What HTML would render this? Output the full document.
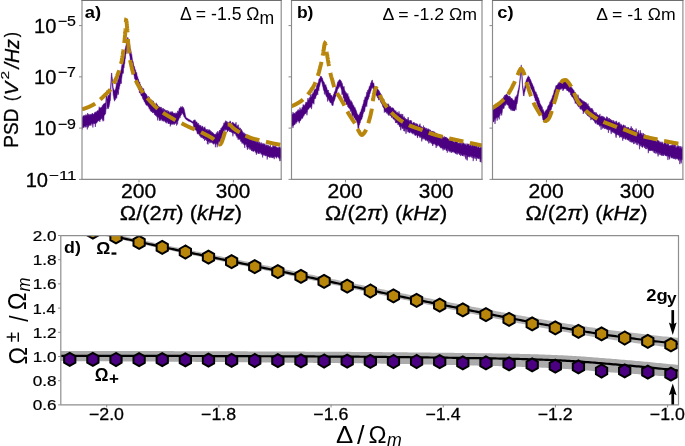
<!DOCTYPE html><html><head><meta charset="utf-8"><style>html,body{margin:0;padding:0;background:#fff;}svg{display:block;will-change:transform;}</style></head><body>
<svg width="685" height="446" viewBox="0 0 685 446" font-family="'Liberation Sans', sans-serif">
<rect width="685" height="446" fill="#fff"/>
<defs>
<clipPath id="cp0"><rect x="82" y="0.5" width="199.2" height="178.9"/></clipPath>
<clipPath id="cp1"><rect x="291.5" y="0.5" width="190.5" height="178.9"/></clipPath>
<clipPath id="cp2"><rect x="492.5" y="0.5" width="190.4" height="178.9"/></clipPath>
<clipPath id="cpd"><rect x="60.6" y="235.5" width="617.9" height="169.4"/></clipPath>
</defs>
<g clip-path="url(#cp0)">
<path d="M81 115.71L81.35 117.5L81.7 116.01L82.05 117.63L82.4 116.67L82.75 117.49L83.1 116.07L83.45 115.62L83.8 116.53L84.15 115.17L84.5 115.39L84.85 116.48L85.2 115.82L85.55 115.3L85.9 114.46L86.25 114.7L86.6 116.5L86.95 114.97L87.3 116.34L87.65 112.97L88 115.96L88.35 114.36L88.7 115.59L89.05 113.91L89.4 114.91L89.75 115.29L90.1 115.28L90.45 114.37L90.8 114.88L91.15 113.91L91.5 115.03L91.85 114.66L92.2 113.03L92.55 113.54L92.9 114.21L93.25 114.34L93.6 114.23L93.95 113.82L94.3 113.36L94.65 112.58L95 111.99L95.35 111.86L95.7 112.64L96.05 112.84L96.4 111.81L96.75 111.59L97.1 110.98L97.45 111.21L97.8 110.28L98.15 111.32L98.5 110.75L98.85 109.11L99.2 106.71L99.55 108.46L99.9 108.09L100.25 107.85L100.6 108.35L100.95 107.22L101.3 107.26L101.65 107.22L102 107.32L102.35 105.32L102.7 107.11L103.05 104.67L103.4 104.1L103.75 104.99L104.1 103.44L104.45 104.32L104.8 103.37L105.15 102.82L105.5 103.24L105.85 102.41L106.2 94.61L106.55 90.68L106.9 99.25L107.25 98.43L107.6 97.98L107.95 95.92L108.3 95.01L108.65 96.12L109 95.75L109.35 94.39L109.7 92.55L110.05 92.84L110.4 90.61L110.75 86.32L111.1 79.82L111.45 73.11L111.8 73.03L112.15 77.75L112.5 80.68L112.85 83.59L113.2 87.91L113.55 88.43L113.9 90.1L114.25 90.69L114.6 90.23L114.95 89.69L115.3 89.82L115.65 88.72L116 86.68L116.35 84.24L116.7 82.43L117.05 83.19L117.4 82.9L117.75 79.94L118.1 79.98L118.45 78.83L118.8 77.88L119.15 75.03L119.5 74.93L119.85 74.79L120.2 71.4L120.55 71.59L120.9 70.44L121.25 68.96L121.6 66.8L121.95 64.38L122.3 64.66L122.65 62.72L123 60.82L123.35 58.42L123.7 56.99L124.05 56.77L124.4 54.9L124.75 52.86L125.1 48.43L125.45 48.21L125.8 46.06L126.15 44.92L126.5 42.22L126.85 40.45L127.2 39.49L127.55 37.71L127.9 37.36L128.25 38.68L128.6 40.37L128.95 42.49L129.3 43.1L129.65 44.41L130 46.97L130.35 49.17L130.7 49.41L131.05 51.15L131.4 53.69L131.75 54.41L132.1 57.2L132.45 59.7L132.8 61.09L133.15 61.71L133.5 63.72L133.85 65.87L134.2 66.86L134.55 66.6L134.9 69.13L135.25 70.21L135.6 69.73L135.95 72.67L136.3 73.22L136.65 72.29L137 74.8L137.35 77.32L137.7 76.64L138.05 79.21L138.4 78.82L138.75 80.47L139.1 81.93L139.45 82.83L139.8 81.89L140.15 85.11L140.5 84.47L140.85 86.06L141.2 86.47L141.55 86.37L141.9 88.44L142.25 88.98L142.6 87.81L142.95 88.97L143.3 90.19L143.65 88.54L144 91.06L144.35 91.73L144.7 92.82L145.05 92.65L145.4 93.64L145.75 93.31L146.1 94.71L146.45 94.23L146.8 95.24L147.15 95.85L147.5 96.9L147.85 97.29L148.2 97.23L148.55 96.34L148.9 97.66L149.25 96.91L149.6 98.69L149.95 99.57L150.3 100.5L150.65 100.22L151 100.87L151.35 99.73L151.7 100.27L152.05 101.57L152.4 100.69L152.75 101.86L153.1 100.81L153.45 101.6L153.8 102.9L154.15 102.94L154.5 103.26L154.85 103.33L155.2 104.7L155.55 104.76L155.9 104.74L156.25 102.76L156.6 105.67L156.95 104.09L157.3 106.21L157.65 104.8L158 106.69L158.35 106.04L158.7 107.31L159.05 106.6L159.4 107.97L159.75 106.87L160.1 108.37L160.45 107.16L160.8 108.81L161.15 106.91L161.5 108.27L161.85 109.12L162.2 109.94L162.55 109.37L162.9 107.98L163.25 109.62L163.6 108.55L163.95 110.88L164.3 110.59L164.65 109.07L165 110.74L165.35 111.59L165.7 110.04L166.05 110.17L166.4 111.63L166.75 110.82L167.1 110.05L167.45 111.78L167.8 112.46L168.15 110.66L168.5 111.83L168.85 111.7L169.2 111.47L169.55 113.29L169.9 113.07L170.25 111.88L170.6 111.64L170.95 112.92L171.3 112.61L171.65 111.55L172 112.4L172.35 111.61L172.7 112.27L173.05 112.58L173.4 113.25L173.75 113.23L174.1 113.26L174.45 113.36L174.8 112.92L175.15 114.29L175.5 113.96L175.85 112.78L176.2 112.87L176.55 113.33L176.9 113.74L177.25 113.14L177.6 110.84L177.95 111.45L178.3 111.51L178.65 111.15L179 109.22L179.35 107.89L179.7 108.82L180.05 108.28L180.4 107.58L180.75 106.54L181.1 107.27L181.45 107.8L181.8 106.68L182.15 106.5L182.5 106.56L182.85 108.2L183.2 107.27L183.55 108.04L183.9 108.5L184.25 109.62L184.6 111.21L184.95 112.7L185.3 114.52L185.65 115.78L186 117.4L186.35 117.64L186.7 117.96L187.05 118.14L187.4 118.25L187.75 118.52L188.1 118.68L188.45 119.01L188.8 119.23L189.15 119.2L189.5 119.64L189.85 120L190.2 120.1L190.55 120.28L190.9 120.5L191.25 120.77L191.6 121.01L191.95 121.27L192.3 121.46L192.65 121.74L193 121.83L193.35 120.41L193.7 120.48L194.05 120.47L194.4 119.74L194.75 120.61L195.1 119.75L195.45 120.66L195.8 122.44L196.15 121.67L196.5 122.35L196.85 121.82L197.2 122.66L197.55 124.33L197.9 123.7L198.25 123.08L198.6 124.22L198.95 125.29L199.3 126.15L199.65 124.77L200 126.77L200.35 125.87L200.7 125.2L201.05 125.77L201.4 127.92L201.75 127.04L202.1 126.08L202.45 125.99L202.8 127.25L203.15 126.95L203.5 128.34L203.85 129.03L204.2 127.84L204.55 127.33L204.9 126.68L205.25 128.85L205.6 128.67L205.95 130.65L206.3 129.34L206.65 130.11L207 129.74L207.35 129.22L207.7 130.82L208.05 131.35L208.4 130.25L208.75 129.47L209.1 131.31L209.45 129.76L209.8 129.92L210.15 130.32L210.5 131.11L210.85 131.43L211.2 131.53L211.55 131.42L211.9 133.25L212.25 132.02L212.6 133.62L212.95 132.76L213.3 133.43L213.65 133.19L214 134.29L214.35 134.85L214.7 133.99L215.05 134.69L215.4 133.93L215.75 134.72L216.1 134.02L216.45 132.52L216.8 134.69L217.15 133.48L217.5 131.22L217.85 132.39L218.2 133.93L218.55 132.72L218.9 131.32L219.25 131.38L219.6 130.08L219.95 131.05L220.3 130.09L220.65 130.09L221 128.01L221.35 128.94L221.7 127.94L222.05 126.82L222.4 127.27L222.75 126.11L223.1 125.28L223.45 125.5L223.8 122.84L224.15 123.29L224.5 123.58L224.85 122.13L225.2 122.39L225.55 120.65L225.9 121.59L226.25 120.91L226.6 122.42L226.95 121.83L227.3 121.74L227.65 122.79L228 122.36L228.35 122.78L228.7 122.42L229.05 122.07L229.4 121.88L229.75 122.23L230.1 120.8L230.45 121.38L230.8 122.15L231.15 123.56L231.5 123.65L231.85 123.31L232.2 123.83L232.55 122.17L232.9 122.03L233.25 123.04L233.6 123.15L233.95 123.34L234.3 124.14L234.65 124.03L235 123.76L235.35 125.06L235.7 123.43L236.05 122.19L236.4 125.31L236.75 126.28L237.1 126.4L237.45 125.46L237.8 127.33L238.15 124.6L238.5 126.69L238.85 127.9L239.2 127.62L239.55 129.15L239.9 128.65L240.25 127.83L240.6 129.11L240.95 131.24L241.3 129.29L241.65 129.84L242 130.51L242.35 131.35L242.7 132.3L243.05 132.47L243.4 132.46L243.75 133.41L244.1 133.16L244.45 132.92L244.8 134.75L245.15 134.18L245.5 133.77L245.85 135.38L246.2 134.66L246.55 136.81L246.9 136.47L247.25 135.44L247.6 136.37L247.95 135.78L248.3 137.16L248.65 138.25L249 138.99L249.35 137.05L249.7 139.58L250.05 137.99L250.4 138.6L250.75 138.13L251.1 138.11L251.45 139.63L251.8 138.2L252.15 138.93L252.5 140.07L252.85 141.17L253.2 139.09L253.55 140.17L253.9 139.87L254.25 141.46L254.6 140.83L254.95 140.14L255.3 139.87L255.65 141.65L256 141.62L256.35 140.68L256.7 142.5L257.05 142.49L257.4 141.11L257.75 141.13L258.1 141.38L258.45 143.49L258.8 142.65L259.15 141.67L259.5 142.35L259.85 143.93L260.2 142.56L260.55 143.88L260.9 144.32L261.25 144.21L261.6 142.53L261.95 144.3L262.3 143.91L262.65 143.52L263 145.04L263.35 143.56L263.7 145.15L264.05 143.51L264.4 144.92L264.75 144.19L265.1 144.32L265.45 145.82L265.8 145.85L266.15 144.47L266.5 145.44L266.85 145.56L267.2 145.95L267.55 144.79L267.9 146.53L268.25 145.92L268.6 145.15L268.95 146.75L269.3 146.46L269.65 146.08L270 146.58L270.35 145.13L270.7 147.41L271.05 147.29L271.4 147.6L271.75 146.96L272.1 147.79L272.45 147.32L272.8 145.66L273.15 145.13L273.5 147.35L273.85 145.92L274.2 146.96L274.55 146.14L274.9 145.93L275.25 145.1L275.6 146.58L275.95 146.93L276.3 148.37L276.65 146.64L277 148.15L277.35 148.11L277.7 147.88L278.05 147.04L278.4 148.55L278.75 147.73L279.1 146.8L279.45 147.18L279.8 147.48L280.15 146.83L280.5 148.15L280.85 148.78L281.2 148.26L281.55 148.45L281.9 147.47L282.25 147.33L282.25 158.67L281.9 161.39L281.55 157.18L281.2 157.14L280.85 160.89L280.5 158.2L280.15 157.38L279.8 161.15L279.45 157.27L279.1 158.78L278.75 156.82L278.4 157.6L278.05 157.1L277.7 156.38L277.35 156.42L277 157.38L276.65 156.93L276.3 158.4L275.95 156.32L275.6 157.15L275.25 156.73L274.9 156.68L274.55 156.83L274.2 159.19L273.85 157.21L273.5 157.46L273.15 157.44L272.8 157.97L272.45 157.97L272.1 156.45L271.75 157.71L271.4 155.74L271.05 157.53L270.7 155.75L270.35 157.47L270 156.75L269.65 157.58L269.3 157.39L268.95 156.44L268.6 156.91L268.25 155.73L267.9 156.72L267.55 155.57L267.2 159.53L266.85 155.72L266.5 154.85L266.15 156.09L265.8 155.25L265.45 156.16L265.1 155.2L264.75 155.07L264.4 153.71L264.05 155.79L263.7 153.4L263.35 154.97L263 153.5L262.65 157.53L262.3 155.28L261.95 153.57L261.6 154.08L261.25 154.49L260.9 154.02L260.55 152.5L260.2 152.87L259.85 152.14L259.5 153L259.15 153.98L258.8 153.5L258.45 152.89L258.1 153.76L257.75 151.74L257.4 151.85L257.05 153.29L256.7 153L256.35 154.76L256 152.36L255.65 151.58L255.3 152.54L254.95 150.24L254.6 151.05L254.25 149.81L253.9 151.19L253.55 151.68L253.2 151.21L252.85 149.88L252.5 151.28L252.15 149.51L251.8 151.03L251.45 150.76L251.1 149.26L250.75 148.6L250.4 148.63L250.05 150L249.7 147.86L249.35 147.6L249 148.94L248.65 147.07L248.3 147.22L247.95 147.23L247.6 149.49L247.25 149.7L246.9 146.42L246.55 146.8L246.2 144.62L245.85 144.71L245.5 144.62L245.15 143.82L244.8 148.03L244.45 144.89L244.1 144.86L243.75 144.49L243.4 143.67L243.05 142.64L242.7 143.18L242.35 142.07L242 143.61L241.65 141.17L241.3 141.79L240.95 140.21L240.6 141.48L240.25 139.36L239.9 139.63L239.55 138.49L239.2 139.38L238.85 139.02L238.5 137.84L238.15 139.85L237.8 138.17L237.45 135.63L237.1 137.74L236.75 136.81L236.4 135.51L236.05 135.88L235.7 134.43L235.35 133.86L235 133.58L234.65 134.17L234.3 133.53L233.95 132.72L233.6 132.72L233.25 133.64L232.9 136.36L232.55 132.17L232.2 133.15L231.85 132.2L231.5 131.15L231.15 132.5L230.8 131.2L230.45 132L230.1 130.92L229.75 131.98L229.4 130.65L229.05 130.44L228.7 130.31L228.35 130.56L228 131.2L227.65 129.91L227.3 132.13L226.95 129.65L226.6 129.34L226.25 129.97L225.9 129.85L225.55 130.42L225.2 129.6L224.85 129.36L224.5 130.16L224.15 131.31L223.8 131.01L223.45 132.26L223.1 134.88L222.75 132.81L222.4 134.06L222.05 137.95L221.7 136.4L221.35 139.22L221 137.48L220.65 140.02L220.3 140.84L219.95 142.55L219.6 141.12L219.25 141.54L218.9 141.77L218.55 141.75L218.2 144.94L217.85 144.28L217.5 143.29L217.15 147.3L216.8 143.39L216.45 143.53L216.1 144.24L215.75 144.65L215.4 147.28L215.05 143.07L214.7 143.3L214.35 143.05L214 144.18L213.65 142.85L213.3 144.31L212.95 143.98L212.6 142.69L212.25 142.92L211.9 141.94L211.55 141.72L211.2 142.9L210.85 142.81L210.5 141.45L210.15 142.35L209.8 143.33L209.45 141.33L209.1 141.45L208.75 141.86L208.4 140.79L208.05 144.5L207.7 139.71L207.35 144.06L207 140.07L206.65 140.88L206.3 139.17L205.95 139.68L205.6 138.51L205.25 140.08L204.9 139.65L204.55 140.78L204.2 137.66L203.85 138.3L203.5 138.49L203.15 139.15L202.8 136.99L202.45 137.97L202.1 136.57L201.75 136.76L201.4 137.53L201.05 137.79L200.7 136.69L200.35 136.6L200 135.61L199.65 135.82L199.3 134.67L198.95 133.85L198.6 134.14L198.25 133.19L197.9 134.3L197.55 133.14L197.2 133.59L196.85 131.72L196.5 130.69L196.15 130.58L195.8 129.73L195.45 130.2L195.1 129.03L194.75 128.81L194.4 128.27L194.05 129.46L193.7 127.22L193.35 124.75L193 123.34L192.65 123.08L192.3 123.2L191.95 122.73L191.6 122.51L191.25 122.31L190.9 122.1L190.55 121.9L190.2 121.78L189.85 121.72L189.5 121.35L189.15 121.28L188.8 121.27L188.45 121.18L188.1 120.69L187.75 120.52L187.4 120.21L187.05 120.25L186.7 119.9L186.35 119.69L186 119.41L185.65 119.08L185.3 118.78L184.95 118.13L184.6 116.97L184.25 116.89L183.9 116.73L183.55 114.74L183.2 114.89L182.85 113.52L182.5 113.7L182.15 113.11L181.8 113.11L181.45 114.77L181.1 113.91L180.75 116.05L180.4 115.15L180.05 117.9L179.7 116.7L179.35 117.58L179 119.29L178.65 119.42L178.3 120.57L177.95 121.07L177.6 124.45L177.25 120.78L176.9 121.73L176.55 125.63L176.2 122.74L175.85 122.7L175.5 123.42L175.15 123.39L174.8 123.32L174.45 124.51L174.1 124.52L173.75 122.68L173.4 124.41L173.05 123.29L172.7 124.28L172.35 124.18L172 124.41L171.65 124.49L171.3 123.28L170.95 124.57L170.6 124.45L170.25 126.47L169.9 122.31L169.55 123.68L169.2 123L168.85 123.81L168.5 122.9L168.15 123.85L167.8 121.62L167.45 122.45L167.1 121.86L166.75 121.7L166.4 123.33L166.05 121.11L165.7 122.41L165.35 122.17L165 121.8L164.65 120.4L164.3 120.85L163.95 121.41L163.6 121.22L163.25 120.38L162.9 120.2L162.55 120.34L162.2 121.2L161.85 120.37L161.5 118.69L161.15 119L160.8 120.54L160.45 120.33L160.1 118.9L159.75 119.22L159.4 120.89L159.05 119.04L158.7 117.02L158.35 116.98L158 117.98L157.65 120.46L157.3 116.55L156.95 117.13L156.6 116.19L156.25 115.15L155.9 115.85L155.55 115.62L155.2 114.82L154.85 114.65L154.5 114.69L154.15 113.36L153.8 112.29L153.45 112.92L153.1 111.86L152.75 112.77L152.4 112.88L152.05 110.71L151.7 111.92L151.35 110.86L151 111.44L150.65 110.62L150.3 110.84L149.95 108.49L149.6 107.97L149.25 109.35L148.9 107.69L148.55 106.87L148.2 106.95L147.85 105.59L147.5 105.61L147.15 105.46L146.8 104.79L146.45 105.42L146.1 104.97L145.75 104.25L145.4 103.56L145.05 103.27L144.7 101.12L144.35 101.8L144 101.4L143.65 98.77L143.3 99.96L142.95 97.54L142.6 98.59L142.25 96.59L141.9 96.18L141.55 96.06L141.2 95.64L140.85 94.92L140.5 92.8L140.15 92.22L139.8 92.75L139.45 93.14L139.1 90.18L138.75 89.39L138.4 89.21L138.05 86.79L137.7 86.94L137.35 85.42L137 84.64L136.65 83.9L136.3 83.82L135.95 81.26L135.6 80.55L135.25 79.21L134.9 79.29L134.55 78.71L134.2 75.91L133.85 74.88L133.5 73.82L133.15 73.19L132.8 71.71L132.45 69.25L132.1 71.08L131.75 65.39L131.4 63.93L131.05 62.55L130.7 61.42L130.35 60.95L130 56.83L129.65 55.22L129.3 51.76L128.95 49.57L128.6 46.2L128.25 44.51L127.9 43.06L127.55 42.93L127.2 45L126.85 47.49L126.5 50.44L126.15 53.93L125.8 54.28L125.45 58.47L125.1 59L124.75 63.83L124.4 63.63L124.05 68.06L123.7 67.48L123.35 73.42L123 72.98L122.65 73.18L122.3 74.15L121.95 77L121.6 79.26L121.25 83.65L120.9 81.88L120.55 83.87L120.2 82.92L119.85 86.27L119.5 86.02L119.15 89.37L118.8 89.22L118.45 94.65L118.1 91.88L117.75 93.04L117.4 94.74L117.05 95.58L116.7 98.41L116.35 96.69L116 97.69L115.65 98.78L115.3 99.91L114.95 99.33L114.6 101.26L114.25 100.13L113.9 98.95L113.55 96.19L113.2 95.37L112.85 90.2L112.5 86.47L112.15 82.25L111.8 77.4L111.45 77L111.1 84.7L110.75 94.14L110.4 100.43L110.05 101.17L109.7 103.67L109.35 104.93L109 107.18L108.65 106.55L108.3 108.88L107.95 106.8L107.6 107.83L107.25 108.33L106.9 109.24L106.55 94.54L106.2 101.26L105.85 111.74L105.5 114.13L105.15 113.42L104.8 114.89L104.45 115.36L104.1 115.35L103.75 120.69L103.4 117.12L103.05 121.4L102.7 116.43L102.35 120.27L102 117.3L101.65 118.93L101.3 118.07L100.95 118.42L100.6 119.9L100.25 119.49L99.9 121.95L99.55 120.67L99.2 120.31L98.85 120.52L98.5 121.01L98.15 120.91L97.8 120.92L97.45 122.09L97.1 122.04L96.75 122.95L96.4 122.7L96.05 123.64L95.7 123.35L95.35 127.01L95 124.23L94.65 123.29L94.3 123.68L93.95 123.76L93.6 123.24L93.25 123.77L92.9 127.55L92.55 123.81L92.2 124.12L91.85 123.44L91.5 123.61L91.15 125.21L90.8 125.72L90.45 124.4L90.1 124.78L89.75 124.76L89.4 125.3L89.05 125.99L88.7 125.1L88.35 127.47L88 125.72L87.65 125.04L87.3 129.47L86.95 125.4L86.6 125.29L86.25 127.2L85.9 125.99L85.55 126.04L85.2 127.41L84.85 126.1L84.5 126.52L84.15 125.74L83.8 127.77L83.45 126L83.1 128.09L82.75 128.01L82.4 127.07L82.05 129.66L81.7 127.07L81.35 126.28L81 128.73Z" fill="#4B0082" stroke="#4B0082" stroke-width="0.5"/>
<path d="M82 109.2L82.19 109.15L82.39 109.11L82.58 109.06L82.78 109.01L82.97 108.97L83.17 108.91L83.36 108.86L83.55 108.81L83.74 108.76L83.94 108.7L84.13 108.65L84.32 108.59L84.51 108.53L84.7 108.47L84.89 108.41L85.08 108.35L85.27 108.29L85.46 108.23L85.65 108.16L85.84 108.1L86.03 108.03L86.22 107.96L86.41 107.89L86.59 107.82L86.78 107.75L86.97 107.68L87.16 107.61L87.34 107.54L87.53 107.46L87.71 107.39L87.9 107.31L88.08 107.24L88.27 107.16L88.45 107.08L88.64 107L88.82 106.92L89 106.84L89.18 106.76L89.37 106.68L89.55 106.6L89.73 106.51L89.91 106.43L90.09 106.34L90.27 106.26L90.45 106.17L90.63 106.08L90.81 105.99L90.99 105.91L91.17 105.82L91.35 105.73L91.53 105.63L91.71 105.54L91.88 105.45L92.06 105.36L92.24 105.27L92.41 105.17L92.59 105.08L92.77 104.98L92.94 104.89L93.12 104.79L93.29 104.69L93.47 104.6L93.64 104.5L93.82 104.4L93.99 104.3L94.16 104.2L94.34 104.1L94.51 104L94.68 103.9L94.86 103.8L95.03 103.7L95.2 103.6M100.19 99.61L100.34 99.48L100.49 99.34L100.64 99.21L100.79 99.08L100.94 98.94L101.08 98.81L101.23 98.67L101.38 98.54L101.52 98.4L101.67 98.26L101.82 98.13L101.96 97.99L102.11 97.85L102.25 97.71L102.39 97.57L102.54 97.43L102.68 97.29L102.82 97.15L102.97 97.02L103.11 96.87L103.25 96.73L103.4 96.59L103.54 96.45L103.68 96.31L103.82 96.17L103.96 96.03L104.11 95.89L104.25 95.75L104.39 95.61L104.53 95.47L104.67 95.33L104.81 95.18L104.96 95.04L105.1 94.9L105.24 94.76L105.38 94.62L105.53 94.48L105.67 94.35L105.82 94.21L105.96 94.07L106.11 93.93L106.25 93.8L106.4 93.66L106.55 93.52L106.69 93.39L106.84 93.25L106.98 93.11L107.13 92.98L107.28 92.84L107.42 92.7L107.57 92.57L107.71 92.43L107.86 92.29L108 92.15L108.14 92.01L108.29 91.87L108.43 91.73L108.57 91.59L108.71 91.45L108.85 91.3L108.99 91.16L109.13 91.02L109.26 90.87L109.4 90.72L109.53 90.57L109.67 90.43L109.8 90.27L109.93 90.12L110.06 89.97L110.18 89.81L110.31 89.66L110.43 89.5L110.55 89.34M113.72 83.56L113.81 83.38L113.9 83.2L113.98 83.02L114.07 82.84L114.16 82.66L114.25 82.48L114.33 82.3L114.42 82.12L114.51 81.94L114.59 81.76L114.68 81.58L114.76 81.4L114.85 81.22L114.93 81.04L115.02 80.86L115.1 80.68L115.19 80.49L115.27 80.31L115.35 80.13L115.44 79.95L115.52 79.77L115.6 79.58L115.68 79.4L115.76 79.22L115.84 79.04L115.92 78.85L116 78.67L116.08 78.49L116.16 78.3L116.24 78.12L116.32 77.93L116.4 77.75L116.47 77.56L116.55 77.38L116.63 77.19L116.7 77.01L116.78 76.82L116.85 76.64L116.93 76.45L117 76.27L117.08 76.08L117.15 75.9L117.23 75.71L117.3 75.53L117.38 75.34L117.45 75.15L117.52 74.97L117.59 74.78L117.67 74.6L117.74 74.41L117.81 74.22L117.88 74.04L117.95 73.85L118.02 73.66L118.09 73.47L118.16 73.29L118.23 73.1L118.3 72.91L118.37 72.72L118.44 72.54L118.51 72.35L118.57 72.16L118.64 71.97L118.71 71.78L118.77 71.59L118.84 71.4L118.9 71.21L118.96 71.02L119.03 70.83L119.09 70.64L119.15 70.45L119.21 70.26M121.06 63.93L121.11 63.73L121.15 63.54L121.2 63.35L121.25 63.15L121.29 62.96L121.33 62.76L121.38 62.57L121.42 62.37L121.46 62.17L121.5 61.98L121.54 61.78L121.58 61.59L121.62 61.39L121.66 61.19L121.7 61L121.74 60.8L121.78 60.61L121.82 60.41L121.85 60.21L121.89 60.02L121.93 59.82L121.96 59.62L122 59.43L122.04 59.23L122.07 59.03L122.11 58.84L122.14 58.64L122.18 58.44L122.21 58.25L122.24 58.05L122.28 57.85L122.31 57.65L122.34 57.46L122.38 57.26L122.41 57.06L122.44 56.86L122.47 56.67L122.5 56.47L122.53 56.27L122.57 56.07L122.6 55.88L122.63 55.68L122.66 55.48L122.69 55.28L122.72 55.09L122.75 54.89L122.78 54.69L122.81 54.49L122.84 54.29L122.86 54.1L122.89 53.9L122.92 53.7L122.95 53.5L122.98 53.3L123.01 53.11L123.04 52.91L123.06 52.71L123.09 52.51L123.12 52.31L123.15 52.12L123.17 51.92L123.2 51.72L123.23 51.52L123.26 51.32L123.28 51.13L123.31 50.93L123.34 50.73L123.36 50.53L123.39 50.33L123.42 50.13L123.44 49.94L123.47 49.74L123.5 49.54M124.29 42.99L124.31 42.79L124.33 42.59L124.36 42.39L124.38 42.19L124.4 41.99L124.42 41.8L124.44 41.6L124.46 41.4L124.48 41.2L124.5 41L124.52 40.8L124.54 40.6L124.56 40.4L124.58 40.2L124.6 40L124.62 39.81L124.64 39.61L124.66 39.41L124.68 39.21L124.7 39.01L124.72 38.81L124.74 38.61L124.76 38.41L124.78 38.21L124.8 38.01L124.82 37.82L124.84 37.62L124.85 37.42L124.87 37.22L124.89 37.02L124.91 36.82L124.93 36.62L124.94 36.42L124.96 36.22L124.98 36.02L125 35.82L125.01 35.62L125.03 35.42L125.05 35.23L125.06 35.03L125.08 34.83L125.1 34.63L125.11 34.43L125.13 34.23L125.15 34.03L125.16 33.83L125.18 33.63L125.2 33.43L125.21 33.23L125.23 33.03L125.24 32.83L125.26 32.63L125.27 32.43L125.29 32.24L125.3 32.04L125.32 31.84L125.34 31.64L125.35 31.44L125.37 31.24L125.38 31.04L125.4 30.84L125.41 30.64L125.43 30.44L125.44 30.24L125.45 30.04L125.47 29.84L125.48 29.64L125.5 29.44L125.51 29.24L125.53 29.04L125.54 28.84L125.55 28.64L125.57 28.45M125.87 21.85L125.88 21.65L125.89 21.45L125.91 21.25L125.92 21.05L125.94 20.85L125.95 20.66L125.98 20.46L126.01 20.26L126.05 20.07L126.16 20.12L126.22 20.31L126.26 20.5L126.31 20.7L126.35 20.9L126.39 21.09L126.42 21.29L126.46 21.48L126.5 21.68L126.53 21.88L126.56 22.08L126.59 22.27L126.63 22.47L126.66 22.67L126.68 22.87L126.71 23.07L126.73 23.26L126.75 23.46L126.78 23.66L126.8 23.86L126.82 24.06L126.84 24.26L126.86 24.46L126.88 24.66L126.89 24.86L126.91 25.05L126.93 25.25L126.95 25.45L126.96 25.65L126.98 25.85L127 26.05L127.01 26.25L127.03 26.45L127.04 26.65L127.05 26.85L127.07 27.05L127.08 27.25L127.1 27.45L127.11 27.65L127.12 27.85L127.14 28.05L127.15 28.25L127.16 28.45L127.17 28.64L127.19 28.84L127.2 29.04L127.21 29.24L127.23 29.44L127.24 29.64L127.25 29.84L127.26 30.04L127.28 30.24L127.29 30.44L127.3 30.64L127.32 30.84L127.33 31.04L127.34 31.24L127.36 31.44L127.37 31.64L127.39 31.84L127.4 32.04L127.42 32.24L127.43 32.44M127.91 39.02L127.92 39.22L127.94 39.42L127.95 39.62L127.97 39.82L127.98 40.02L128 40.22L128.01 40.41L128.03 40.61L128.04 40.81L128.06 41.01L128.07 41.21L128.09 41.41L128.11 41.61L128.12 41.81L128.14 42.01L128.15 42.21L128.17 42.41L128.18 42.61L128.2 42.81L128.22 43.01L128.23 43.21L128.25 43.41L128.27 43.6L128.28 43.8L128.3 44L128.32 44.2L128.33 44.4L128.35 44.6L128.37 44.8L128.39 45L128.4 45.2L128.42 45.4L128.44 45.6L128.45 45.8L128.47 46L128.49 46.2L128.51 46.39L128.52 46.59L128.54 46.79L128.56 46.99L128.57 47.19L128.59 47.39L128.61 47.59L128.63 47.79L128.65 47.99L128.66 48.19L128.68 48.39L128.7 48.59L128.72 48.79L128.74 48.98L128.75 49.18L128.77 49.38L128.79 49.58L128.81 49.78L128.83 49.98L128.85 50.18L128.87 50.38L128.89 50.58L128.91 50.78L128.93 50.98L128.95 51.17L128.97 51.37L128.99 51.57L129.01 51.77L129.03 51.97L129.05 52.17L129.07 52.37L129.09 52.57L129.11 52.77L129.13 52.96L129.16 53.16L129.18 53.36L129.2 53.56M130.16 60.09L130.2 60.29L130.23 60.48L130.27 60.68L130.31 60.87L130.35 61.07L130.39 61.27L130.43 61.46L130.47 61.66L130.5 61.86L130.54 62.05L130.58 62.25L130.62 62.44L130.67 62.64L130.71 62.84L130.75 63.03L130.79 63.23L130.83 63.42L130.87 63.62L130.91 63.81L130.96 64.01L131 64.2L131.04 64.4L131.08 64.6L131.12 64.79L131.17 64.99L131.21 65.18L131.25 65.38L131.3 65.57L131.34 65.77L131.38 65.96L131.42 66.16L131.47 66.35L131.51 66.55L131.55 66.74L131.6 66.94L131.64 67.13L131.68 67.33L131.73 67.53L131.77 67.72L131.82 67.92L131.86 68.11L131.91 68.31L131.95 68.5L132 68.69L132.04 68.89L132.09 69.08L132.14 69.28L132.18 69.47L132.23 69.67L132.28 69.86L132.32 70.06L132.37 70.25L132.42 70.44L132.47 70.64L132.52 70.83L132.57 71.03L132.62 71.22L132.67 71.41L132.72 71.61L132.77 71.8L132.82 71.99L132.87 72.19L132.93 72.38L132.98 72.57L133.03 72.76L133.09 72.96L133.14 73.15L133.2 73.34L133.25 73.53L133.31 73.73L133.37 73.92L133.42 74.11L133.48 74.3M135.81 80.47L135.9 80.65L135.98 80.83L136.06 81.02L136.14 81.2L136.23 81.38L136.31 81.56L136.4 81.74L136.48 81.92L136.57 82.1L136.65 82.28L136.74 82.47L136.83 82.65L136.91 82.83L137 83L137.09 83.18L137.18 83.36L137.27 83.54L137.36 83.72L137.46 83.9L137.55 84.07L137.65 84.25L137.74 84.42L137.84 84.6L137.94 84.77L138.03 84.95L138.13 85.12L138.23 85.29L138.33 85.47L138.44 85.64L138.54 85.81L138.64 85.98L138.74 86.16L138.85 86.33L138.95 86.5L139.05 86.67L139.16 86.84L139.26 87.01L139.37 87.18L139.48 87.35L139.58 87.52L139.69 87.69L139.79 87.86L139.9 88.03L140.01 88.19L140.11 88.36L140.22 88.53L140.33 88.7L140.44 88.87L140.54 89.04L140.65 89.21L140.76 89.38L140.87 89.54L140.98 89.71L141.09 89.88L141.2 90.04L141.31 90.21L141.42 90.38L141.53 90.54L141.64 90.71L141.76 90.88L141.87 91.04L141.98 91.21L142.09 91.37L142.21 91.53L142.32 91.7L142.44 91.86L142.55 92.03L142.67 92.19L142.78 92.35L142.9 92.51L143.02 92.68L143.13 92.84M147.27 97.98L147.41 98.13L147.54 98.28L147.67 98.43L147.8 98.58L147.94 98.73L148.07 98.88L148.2 99.03L148.33 99.17L148.47 99.32L148.6 99.47L148.74 99.62L148.87 99.77L149.01 99.92L149.14 100.06L149.28 100.21L149.41 100.36L149.55 100.51L149.68 100.65L149.82 100.8L149.95 100.95L150.09 101.09L150.22 101.24L150.36 101.39L150.49 101.54L150.63 101.68L150.77 101.83L150.9 101.98L151.04 102.12L151.17 102.27L151.31 102.41L151.45 102.56L151.58 102.71L151.72 102.85L151.86 103L151.99 103.14L152.13 103.29L152.27 103.44L152.41 103.58L152.54 103.73L152.68 103.87L152.82 104.02L152.96 104.16L153.1 104.3L153.24 104.45L153.38 104.59L153.51 104.74L153.65 104.88L153.79 105.02L153.93 105.16L154.07 105.31L154.22 105.45L154.36 105.59L154.5 105.73L154.64 105.87L154.78 106.01L154.93 106.15L155.07 106.29L155.21 106.43L155.36 106.57L155.5 106.71L155.64 106.85L155.79 106.99L155.93 107.12L156.08 107.26L156.23 107.4L156.37 107.53L156.52 107.67L156.67 107.8L156.82 107.94L156.97 108.07L157.12 108.2L157.27 108.33L157.42 108.47L157.57 108.6L157.72 108.73M162.98 112.71L163.14 112.82L163.31 112.94L163.47 113.05L163.64 113.16L163.81 113.27L163.97 113.38L164.14 113.49L164.31 113.6L164.48 113.7L164.65 113.81L164.82 113.92L164.99 114.02L165.16 114.13L165.33 114.23L165.5 114.34L165.67 114.44L165.84 114.55L166.01 114.65L166.18 114.75L166.35 114.86L166.52 114.96L166.7 115.06L166.87 115.16L167.04 115.26L167.21 115.37L167.39 115.47L167.56 115.57L167.73 115.67L167.9 115.77L168.08 115.87L168.25 115.97L168.42 116.07L168.59 116.17L168.77 116.27L168.94 116.38L169.11 116.48L169.28 116.58L169.46 116.68L169.63 116.78L169.8 116.88L169.97 116.98L170.15 117.09L170.32 117.19L170.49 117.29L170.66 117.39L170.83 117.5L171 117.6L171.17 117.7L171.35 117.81L171.52 117.91L171.69 118.01L171.86 118.11L172.03 118.22L172.2 118.32L172.38 118.42L172.55 118.52L172.72 118.63L172.89 118.73L173.06 118.83L173.24 118.93L173.41 119.03L173.58 119.13L173.75 119.23L173.93 119.34L174.1 119.44L174.27 119.54L174.45 119.64L174.62 119.73L174.79 119.83L174.97 119.93L175.14 120.03L175.32 120.13L175.49 120.22M181.56 123.28L181.74 123.37L181.92 123.46L182.1 123.55L182.28 123.64L182.46 123.73L182.64 123.82L182.82 123.91L182.99 124L183.17 124.09L183.35 124.18L183.53 124.27L183.71 124.36L183.89 124.46L184.06 124.55L184.24 124.64L184.42 124.73L184.6 124.82L184.78 124.91L184.95 125L185.13 125.09L185.31 125.18L185.49 125.27L185.67 125.36L185.85 125.45L186.03 125.54L186.2 125.63L186.38 125.72L186.56 125.81L186.74 125.9L186.92 125.98L187.1 126.07L187.28 126.16L187.46 126.24L187.64 126.33L187.82 126.42L188 126.5L188.19 126.59L188.37 126.67L188.55 126.75L188.73 126.84L188.91 126.92L189.09 127L189.28 127.09L189.46 127.17L189.64 127.25L189.82 127.33L190.01 127.41L190.19 127.49L190.37 127.58L190.56 127.66L190.74 127.74L190.92 127.82L191.11 127.9L191.29 127.98L191.47 128.06L191.66 128.14L191.84 128.22L192.02 128.29L192.21 128.37L192.39 128.45L192.57 128.53L192.76 128.61L192.94 128.69L193.12 128.77L193.31 128.85L193.49 128.93L193.67 129.01L193.86 129.09L194.04 129.17L194.22 129.25L194.41 129.33L194.59 129.41L194.77 129.49M201 132.23L201.18 132.32L201.36 132.4L201.54 132.49L201.72 132.57L201.9 132.66L202.08 132.74L202.26 132.83L202.44 132.92L202.62 133L202.8 133.09L202.98 133.18L203.16 133.27L203.34 133.35L203.52 133.44L203.7 133.53L203.88 133.62L204.06 133.71L204.24 133.8L204.41 133.89L204.59 133.99L204.77 134.08L204.95 134.17L205.12 134.26L205.3 134.36L205.48 134.45L205.65 134.54L205.83 134.63L206.01 134.73L206.19 134.82L206.37 134.91L206.54 135L206.72 135.09L206.9 135.18L207.08 135.27L207.26 135.37L207.43 135.46L207.61 135.55L207.79 135.64L207.97 135.73L208.14 135.83L208.32 135.92L208.5 136.01L208.67 136.1L208.85 136.2L209.03 136.29L209.2 136.39L209.38 136.48L209.55 136.58L209.73 136.68L209.9 136.77L210.08 136.87L210.25 136.97L210.42 137.07L210.6 137.17L210.77 137.27L210.94 137.38L211.11 137.48L211.28 137.59L211.45 137.69L211.62 137.8L211.79 137.91L211.96 138.02L212.12 138.13L212.29 138.24L212.45 138.35L212.62 138.47L212.78 138.58L212.94 138.7L213.1 138.82L213.26 138.94L213.42 139.06L213.58 139.19L213.73 139.31L213.88 139.44L214.03 139.58M218.94 144.24L219.12 144.33L219.3 144.41L219.49 144.45L219.69 144.49L219.88 144.44L220.07 144.37L220.24 144.28L220.39 144.15L220.54 144.02L220.68 143.87L220.81 143.72L220.94 143.57L221.06 143.41L221.18 143.25L221.28 143.07L221.38 142.9L221.47 142.72L221.56 142.54L221.64 142.36L221.72 142.18L221.79 141.99L221.86 141.8L221.93 141.62L222 141.43L222.06 141.24L222.13 141.05L222.2 140.86L222.26 140.67L222.33 140.48L222.39 140.29L222.46 140.11L222.53 139.92L222.6 139.73L222.67 139.54L222.74 139.36L222.8 139.17L222.87 138.98L222.94 138.79L223 138.6L223.06 138.41L223.13 138.22L223.19 138.03L223.25 137.84L223.32 137.65L223.38 137.46L223.44 137.27L223.5 137.08L223.56 136.89L223.62 136.7L223.68 136.51L223.74 136.32L223.8 136.13L223.86 135.94L223.92 135.75L223.98 135.55L224.04 135.36L224.1 135.17L224.16 134.98L224.22 134.79L224.28 134.6L224.34 134.41L224.4 134.22L224.46 134.03L224.52 133.84L224.57 133.64L224.63 133.45L224.69 133.26L224.75 133.07L224.8 132.88L224.86 132.69L224.92 132.49L224.98 132.3L225.03 132.11L225.09 131.92L225.14 131.73L225.2 131.54L225.26 131.34M227.62 124.51L227.82 124.51L228.02 124.52L228.22 124.53L228.42 124.55L228.62 124.56L228.81 124.58L229.01 124.61L229.21 124.64L229.4 124.7L229.59 124.76L229.77 124.84L229.95 124.94L230.12 125.04L230.28 125.16L230.45 125.27L230.6 125.4L230.75 125.53L230.89 125.67L231.04 125.81L231.18 125.95L231.32 126.1L231.45 126.24L231.59 126.39L231.72 126.54L231.86 126.68L231.99 126.83L232.13 126.98L232.26 127.13L232.4 127.27L232.54 127.42L232.67 127.56L232.82 127.7L232.96 127.84L233.11 127.98L233.26 128.11L233.42 128.23L233.58 128.35L233.74 128.47L233.9 128.59L234.06 128.71L234.22 128.83L234.38 128.95L234.54 129.06L234.71 129.18L234.87 129.29L235.03 129.41L235.2 129.52L235.36 129.64L235.53 129.75L235.69 129.87L235.85 129.98L236.02 130.09L236.19 130.21L236.35 130.32L236.52 130.43L236.68 130.54L236.85 130.65L237.02 130.76L237.18 130.87L237.35 130.98L237.52 131.09L237.69 131.2L237.86 131.3L238.03 131.41L238.19 131.52L238.36 131.62L238.53 131.73L238.7 131.84L238.87 131.94L239.04 132.04L239.22 132.15L239.39 132.25L239.56 132.36L239.73 132.46M245.54 135.58L245.72 135.67L245.9 135.75L246.08 135.84L246.26 135.92L246.45 136.01L246.63 136.09L246.81 136.18L246.99 136.26L247.17 136.35L247.35 136.43L247.53 136.51L247.72 136.6L247.9 136.68L248.08 136.76L248.26 136.84L248.45 136.92L248.63 137L248.81 137.08L249 137.16L249.18 137.24L249.36 137.32L249.55 137.4L249.73 137.47L249.92 137.55L250.11 137.62L250.29 137.69L250.48 137.77L250.67 137.84L250.85 137.91L251.04 137.97L251.23 138.04L251.42 138.11L251.61 138.17L251.8 138.23L251.99 138.3L252.18 138.36L252.37 138.41L252.56 138.47L252.75 138.53L252.95 138.58L253.14 138.64L253.33 138.69L253.52 138.74L253.72 138.8L253.91 138.85L254.1 138.9L254.3 138.95L254.49 139L254.68 139.05L254.88 139.09L255.07 139.14L255.27 139.19L255.46 139.23L255.66 139.28L255.85 139.33L256.05 139.37L256.24 139.42L256.44 139.46L256.63 139.51L256.83 139.55L257.02 139.6L257.22 139.64L257.41 139.68L257.61 139.73L257.8 139.77L258 139.82L258.19 139.86L258.39 139.91L258.58 139.95L258.77 140L258.97 140.05L259.16 140.09L259.36 140.14M265.96 141.76L266.16 141.81L266.35 141.86L266.54 141.91L266.74 141.95L266.93 142L267.13 142.05L267.32 142.1L267.51 142.15L267.71 142.2L267.9 142.24L268.1 142.29L268.29 142.34L268.49 142.39L268.68 142.44L268.87 142.48L269.07 142.53L269.26 142.58L269.46 142.62L269.65 142.67L269.85 142.72L270.04 142.76L270.24 142.81L270.43 142.85L270.63 142.9L270.82 142.94L271.02 142.99L271.21 143.03L271.41 143.07L271.6 143.12L271.8 143.16L271.99 143.2L272.19 143.24L272.38 143.28L272.58 143.32L272.78 143.36L272.97 143.4L273.17 143.44L273.36 143.48L273.56 143.52L273.76 143.56L273.95 143.6L274.15 143.64L274.35 143.67L274.54 143.71L274.74 143.75L274.93 143.79L275.13 143.83L275.33 143.86L275.52 143.9L275.72 143.94L275.92 143.98L276.11 144.01L276.31 144.05L276.51 144.09L276.7 144.12L276.9 144.16L277.1 144.2L277.29 144.23L277.49 144.27L277.69 144.3L277.88 144.34L278.08 144.37L278.28 144.4L278.47 144.44L278.67 144.47L278.87 144.51L279.07 144.54L279.26 144.57L279.46 144.61L279.66 144.64L279.86 144.67L280.05 144.7L280.25 144.73L280.45 144.76" fill="none" stroke="#B8860B" stroke-width="4"/>
</g>
<g clip-path="url(#cp1)">
<path d="M290.5 116.49L290.85 115.6L291.2 115.23L291.55 116.38L291.9 115.88L292.25 113.78L292.6 115.62L292.95 112.12L293.3 113.08L293.65 113.64L294 114.02L294.35 113.46L294.7 112.88L295.05 113.59L295.4 113.7L295.75 111.92L296.1 111.98L296.45 112.14L296.8 111.19L297.15 111.61L297.5 110.35L297.85 111.99L298.2 109.31L298.55 110.88L298.9 110.98L299.25 110.18L299.6 110.82L299.95 107.55L300.3 108.86L300.65 110.41L301 109.38L301.35 109.38L301.7 109.39L302.05 106.98L302.4 107.65L302.75 107.87L303.1 104.59L303.45 106.83L303.8 104.7L304.15 105.88L304.5 105.87L304.85 105.01L305.2 104.21L305.55 103.46L305.9 101.96L306.25 102L306.6 102.41L306.95 102.72L307.3 101.93L307.65 99.46L308 97.98L308.35 99.29L308.7 100.36L309.05 99.95L309.4 97.55L309.75 97.71L310.1 97.93L310.45 94.33L310.8 97.55L311.15 96.83L311.5 96.57L311.85 94.04L312.2 94.32L312.55 94.51L312.9 92.48L313.25 93.13L313.6 92.83L313.95 91L314.3 89.73L314.65 91.09L315 88.74L315.35 89.51L315.7 89.12L316.05 88.63L316.4 87.12L316.75 85.3L317.1 84.89L317.45 83.27L317.8 83.63L318.15 82.54L318.5 81.73L318.85 79.51L319.2 78.76L319.55 78.95L319.9 77.96L320.25 77.28L320.6 75.9L320.95 76.68L321.3 76.57L321.65 76.64L322 77.89L322.35 78.09L322.7 79.22L323.05 80.52L323.4 81.03L323.75 81.7L324.1 82.26L324.45 82.71L324.8 84.87L325.15 84.7L325.5 86.33L325.85 84.62L326.2 86.57L326.55 87.08L326.9 88.06L327.25 90.07L327.6 90.03L327.95 90.99L328.3 89.97L328.65 92.19L329 92.58L329.35 92.95L329.7 94.1L330.05 93.1L330.4 93.93L330.75 95.22L331.1 94.94L331.45 96.12L331.8 95.48L332.15 96.58L332.5 97.32L332.85 97.35L333.2 95.51L333.55 94.35L333.9 93.93L334.25 92.33L334.6 91.86L334.95 91.25L335.3 89.91L335.65 88.76L336 86.85L336.35 87.25L336.7 86.3L337.05 84.49L337.4 82.84L337.75 81.95L338.1 81.44L338.45 81.96L338.8 80.34L339.15 80.06L339.5 80.36L339.85 79.42L340.2 80.51L340.55 80L340.9 80.74L341.25 81.2L341.6 81.89L341.95 83.47L342.3 83.3L342.65 85.32L343 86.48L343.35 86.87L343.7 87.56L344.05 86.28L344.4 89.15L344.75 90.07L345.1 91.73L345.45 91.43L345.8 92.64L346.15 92.35L346.5 93.98L346.85 93.38L347.2 94.87L347.55 95.14L347.9 93.46L348.25 96.4L348.6 97.61L348.95 96.49L349.3 99.18L349.65 99.23L350 99.28L350.35 101.15L350.7 101.47L351.05 100.55L351.4 101.21L351.75 102.19L352.1 102.17L352.45 103.15L352.8 104.87L353.15 104.66L353.5 106.01L353.85 105.65L354.2 107.15L354.55 108.33L354.9 107.22L355.25 108.42L355.6 109.09L355.95 110.34L356.3 110.61L356.65 112.22L357 112.74L357.35 114.75L357.7 114.37L358.05 114.55L358.4 115.62L358.75 115.16L359.1 115.7L359.45 113.8L359.8 114.7L360.15 111.86L360.5 112.12L360.85 111.84L361.2 109.57L361.55 109L361.9 108.1L362.25 105.95L362.6 106.56L362.95 104.24L363.3 103.59L363.65 102.16L364 99.81L364.35 100.82L364.7 98.76L365.05 96.81L365.4 97.57L365.75 97.05L366.1 96.02L366.45 94.22L366.8 92.16L367.15 93.38L367.5 90.37L367.85 90.5L368.2 90.53L368.55 89.01L368.9 88.57L369.25 86.67L369.6 86.15L369.95 85.76L370.3 84.94L370.65 83.03L371 82.46L371.35 82.25L371.7 80.56L372.05 80.29L372.4 80.11L372.75 82.2L373.1 82.92L373.45 83.45L373.8 82.87L374.15 85.56L374.5 86.42L374.85 86.99L375.2 87.3L375.55 87.09L375.9 87.67L376.25 89L376.6 89.35L376.95 89.05L377.3 88.7L377.65 89L378 90.31L378.35 89.78L378.7 90.07L379.05 91.36L379.4 91.13L379.75 92.18L380.1 93.05L380.45 93.08L380.8 94.75L381.15 94.5L381.5 95.03L381.85 95.63L382.2 97.27L382.55 98.65L382.9 98.03L383.25 98.88L383.6 99.49L383.95 99.14L384.3 101.61L384.65 102.94L385 104.07L385.35 104.06L385.7 103.46L386.05 104.37L386.4 103.87L386.75 104.41L387.1 104.69L387.45 103.89L387.8 105.59L388.15 103.64L388.5 105.98L388.85 104.65L389.2 105.71L389.55 106.2L389.9 106.71L390.25 106.13L390.6 106.83L390.95 107.7L391.3 108.22L391.65 107.78L392 107.68L392.35 108.13L392.7 107.61L393.05 107.89L393.4 108.13L393.75 108.73L394.1 109.76L394.45 109.96L394.8 110.56L395.15 110.86L395.5 112.01L395.85 110.55L396.2 112.16L396.55 112.99L396.9 112.25L397.25 111.95L397.6 112.95L397.95 113.43L398.3 113.01L398.65 114.56L399 111.28L399.35 114.09L399.7 114.56L400.05 113.98L400.4 115.37L400.75 114.62L401.1 113.81L401.45 114.27L401.8 115.76L402.15 116.94L402.5 114.49L402.85 114L403.2 117.21L403.55 117.52L403.9 117.15L404.25 116.53L404.6 118.1L404.95 118.79L405.3 117.98L405.65 119.7L406 118.92L406.35 119.31L406.7 119.35L407.05 120.44L407.4 119.35L407.75 119.38L408.1 117.05L408.45 118.95L408.8 120.73L409.15 120.17L409.5 120.94L409.85 121.75L410.2 120.18L410.55 120.72L410.9 120.37L411.25 120.85L411.6 120.77L411.95 122.98L412.3 123.44L412.65 123.13L413 122.74L413.35 122.19L413.7 123L414.05 122.97L414.4 122.49L414.75 124.45L415.1 123.03L415.45 124.83L415.8 124.48L416.15 123.41L416.5 123.68L416.85 124.57L417.2 125.02L417.55 123.8L417.9 125.4L418.25 126.2L418.6 125.8L418.95 126.55L419.3 124.66L419.65 126.62L420 123.63L420.35 126.71L420.7 126.63L421.05 126.07L421.4 126.96L421.75 126.94L422.1 127.82L422.45 127.24L422.8 128.35L423.15 128L423.5 125.53L423.85 128.18L424.2 128.37L424.55 127.47L424.9 127.11L425.25 128.8L425.6 128.75L425.95 128.04L426.3 128L426.65 128.63L427 129.92L427.35 130.08L427.7 128.75L428.05 129.05L428.4 128.72L428.75 129.19L429.1 130.28L429.45 131.19L429.8 129.39L430.15 130.07L430.5 130.56L430.85 130.47L431.2 131.42L431.55 131.71L431.9 131.29L432.25 131.71L432.6 131.31L432.95 130.9L433.3 131.31L433.65 132.69L434 132.91L434.35 131.65L434.7 133.22L435.05 132.35L435.4 134.37L435.75 133.62L436.1 133.63L436.45 133.05L436.8 133.05L437.15 135.12L437.5 134.1L437.85 134.25L438.2 135.67L438.55 134.08L438.9 134.99L439.25 134.11L439.6 136.31L439.95 135.61L440.3 136.29L440.65 135.6L441 135.84L441.35 136.23L441.7 136.87L442.05 136.55L442.4 137.04L442.75 135.84L443.1 137.1L443.45 137.21L443.8 137.92L444.15 138.08L444.5 136.41L444.85 138.22L445.2 136.93L445.55 137.78L445.9 136.93L446.25 139.2L446.6 137.32L446.95 137.91L447.3 138.59L447.65 138.37L448 138.48L448.35 139.34L448.7 139L449.05 140.21L449.4 140.89L449.75 139.34L450.1 140L450.45 138.99L450.8 140.77L451.15 139.44L451.5 139.12L451.85 139.46L452.2 139.4L452.55 138.14L452.9 141.7L453.25 141.65L453.6 141.41L453.95 142.16L454.3 142.18L454.65 142.64L455 140.37L455.35 141.97L455.7 141.4L456.05 141.95L456.4 141.32L456.75 141.26L457.1 142.48L457.45 140.29L457.8 143.44L458.15 143.07L458.5 143.34L458.85 143.23L459.2 143.3L459.55 142.76L459.9 143.5L460.25 143.61L460.6 142.38L460.95 144.59L461.3 144.69L461.65 141.69L462 142.61L462.35 143.29L462.7 143.13L463.05 142.61L463.4 144.62L463.75 142.87L464.1 144.71L464.45 144.07L464.8 143.73L465.15 143.51L465.5 145.02L465.85 144.51L466.2 145.71L466.55 145.16L466.9 143.44L467.25 143.71L467.6 144.63L467.95 144.18L468.3 143.96L468.65 145.53L469 143.92L469.35 145.38L469.7 146.22L470.05 145.33L470.4 145.24L470.75 145.05L471.1 145.18L471.45 146.88L471.8 145.4L472.15 144.73L472.5 145.46L472.85 144.73L473.2 146.01L473.55 145.3L473.9 147.12L474.25 145.22L474.6 146.49L474.95 145.41L475.3 146.93L475.65 146.21L476 145.7L476.35 146.12L476.7 146.43L477.05 145.59L477.4 147.95L477.75 147.98L478.1 146.89L478.45 145.91L478.8 146.68L479.15 147.72L479.5 148.32L479.85 147.5L480.2 147.49L480.55 147.59L480.9 147.27L481.25 148.24L481.6 146.73L481.95 148.34L482.3 148.82L482.65 148.19L483 146.67L483.35 148.69L483.35 159.46L483 159.92L482.65 159.68L482.3 159.77L481.95 162.66L481.6 158.34L481.25 159.81L480.9 162.26L480.55 158.5L480.2 162.03L479.85 158.79L479.5 158.9L479.15 157.22L478.8 158.66L478.45 158.68L478.1 158.5L477.75 158.45L477.4 158.35L477.05 157.46L476.7 156.64L476.35 160.87L476 157.17L475.65 156.48L475.3 158.8L474.95 156.81L474.6 156.39L474.25 158.41L473.9 157.08L473.55 157.14L473.2 161.15L472.85 156.23L472.5 155.88L472.15 158.17L471.8 157.01L471.45 155.59L471.1 157.16L470.75 157.09L470.4 155.47L470.05 155.92L469.7 156.29L469.35 157.28L469 157.1L468.65 155.61L468.3 156.8L467.95 156.29L467.6 156.98L467.25 160.51L466.9 155.49L466.55 154.8L466.2 159.68L465.85 156.53L465.5 158.51L465.15 154.67L464.8 154.82L464.45 154.64L464.1 156.59L463.75 154.77L463.4 154.47L463.05 155.82L462.7 154.95L462.35 155.97L462 155.48L461.65 154.32L461.3 154.41L460.95 155.69L460.6 155.77L460.25 153.4L459.9 153.72L459.55 155.07L459.2 153.67L458.85 153.52L458.5 153.52L458.15 152.8L457.8 152.99L457.45 154.55L457.1 152.19L456.75 152.41L456.4 154.35L456.05 152.73L455.7 153.08L455.35 153.73L455 153.05L454.65 152.6L454.3 152.2L453.95 152.56L453.6 152.16L453.25 151.51L452.9 151.77L452.55 151.69L452.2 152.3L451.85 150.87L451.5 152.87L451.15 151.75L450.8 151.11L450.45 150.73L450.1 152.4L449.75 150.9L449.4 150.15L449.05 151.55L448.7 150.63L448.35 150.62L448 149.11L447.65 148.87L447.3 152.75L446.95 149.65L446.6 150.71L446.25 150.74L445.9 150.05L445.55 147.97L445.2 148.1L444.85 149.83L444.5 149.41L444.15 148.26L443.8 149.15L443.45 147.29L443.1 150.53L442.75 148.44L442.4 148.82L442.05 147.39L441.7 148.11L441.35 146.8L441 148.29L440.65 146.84L440.3 147.73L439.95 146.1L439.6 146.25L439.25 146.57L438.9 145.87L438.55 145.16L438.2 144.88L437.85 145.22L437.5 146.3L437.15 144.35L436.8 145.81L436.45 145.84L436.1 147.99L435.75 145.16L435.4 144.47L435.05 144.78L434.7 144.31L434.35 143.18L434 143.99L433.65 143.71L433.3 143.9L432.95 145.61L432.6 146L432.25 143.87L431.9 143.75L431.55 141.77L431.2 143.44L430.85 142.27L430.5 141.58L430.15 142.67L429.8 142.73L429.45 140.83L429.1 141.07L428.75 143.54L428.4 140.45L428.05 139.96L427.7 141.29L427.35 141.32L427 140.26L426.65 139.91L426.3 138.71L425.95 140.95L425.6 139.42L425.25 140.06L424.9 138.22L424.55 139.33L424.2 138.57L423.85 138.78L423.5 137.43L423.15 139.29L422.8 139.31L422.45 138.67L422.1 137.28L421.75 141.47L421.4 137.42L421.05 137.19L420.7 136.35L420.35 137.64L420 136.59L419.65 137.44L419.3 136.29L418.95 135.47L418.6 135.98L418.25 135.06L417.9 136.4L417.55 138.08L417.2 136.63L416.85 134.69L416.5 134.95L416.15 135.3L415.8 135.5L415.45 135.49L415.1 135.36L414.75 135.33L414.4 134.58L414.05 133.6L413.7 133.28L413.35 132.91L413 134.36L412.65 132.69L412.3 133.5L411.95 131.98L411.6 133.18L411.25 132L410.9 131.54L410.55 132.11L410.2 131.79L409.85 133.18L409.5 131.47L409.15 132.82L408.8 132.24L408.45 131.15L408.1 131.91L407.75 132.06L407.4 130.04L407.05 129.19L406.7 129.3L406.35 131.77L406 133.87L405.65 131.12L405.3 128.93L404.95 127.99L404.6 131.33L404.25 129.9L403.9 131.14L403.55 129.28L403.2 127.62L402.85 129.08L402.5 128L402.15 128.04L401.8 126.3L401.45 126.81L401.1 129.12L400.75 130.28L400.4 127.39L400.05 126.59L399.7 126.71L399.35 126.44L399 125.03L398.65 123.97L398.3 124.14L397.95 124.9L397.6 123.15L397.25 122.41L396.9 122.68L396.55 121.68L396.2 123.17L395.85 121.32L395.5 122.97L395.15 119.78L394.8 120.06L394.45 120.22L394.1 118.4L393.75 118.93L393.4 119.21L393.05 118.94L392.7 117.72L392.35 117.1L392 116.17L391.65 117.75L391.3 116.41L390.95 116.04L390.6 115.31L390.25 115.78L389.9 115.56L389.55 113.62L389.2 114.48L388.85 115.78L388.5 113.67L388.15 114.92L387.8 113.28L387.45 113.51L387.1 112.16L386.75 113.51L386.4 112.18L386.05 111.59L385.7 112.2L385.35 112.08L385 111.53L384.65 110.01L384.3 112.67L383.95 108.4L383.6 108L383.25 107.39L382.9 106.95L382.55 105.65L382.2 104.73L381.85 103.65L381.5 103.17L381.15 103.14L380.8 102.18L380.45 101.37L380.1 100.38L379.75 99.57L379.4 99.21L379.05 99.21L378.7 100.19L378.35 98.38L378 97.3L377.65 98.1L377.3 96.12L376.95 96.4L376.6 95.97L376.25 95.18L375.9 94.51L375.55 94.93L375.2 93.64L374.85 93.38L374.5 92.19L374.15 92.12L373.8 91.03L373.45 89.58L373.1 89.01L372.75 88.12L372.4 86.64L372.05 88.28L371.7 88.01L371.35 89.43L371 90.66L370.65 91.56L370.3 92.76L369.95 94.02L369.6 94.29L369.25 96.88L368.9 97.2L368.55 98.95L368.2 99.26L367.85 100.32L367.5 100.7L367.15 103.04L366.8 106.63L366.45 104.32L366.1 105.28L365.75 106.8L365.4 106.03L365.05 108.84L364.7 111.24L364.35 111.79L364 110.56L363.65 112.7L363.3 113.44L362.95 114.49L362.6 116.92L362.25 116.97L361.9 119.28L361.55 119.29L361.2 119.53L360.85 120.38L360.5 121.35L360.15 123.12L359.8 123.23L359.45 124.92L359.1 125.15L358.75 128.48L358.4 126.73L358.05 128.8L357.7 125.23L357.35 123.49L357 122.5L356.65 121.4L356.3 120.78L355.95 119.97L355.6 119.82L355.25 119.47L354.9 118.12L354.55 118.05L354.2 117.87L353.85 117.64L353.5 115.12L353.15 115.57L352.8 115.52L352.45 114.25L352.1 117.04L351.75 113.56L351.4 111.82L351.05 110.54L350.7 111.59L350.35 110.84L350 108.78L349.65 108.89L349.3 107.9L348.95 108.05L348.6 108.09L348.25 106.13L347.9 107.03L347.55 105.36L347.2 104.24L346.85 104.98L346.5 104.29L346.15 104.02L345.8 101.89L345.45 101.68L345.1 101.48L344.75 101.23L344.4 101.93L344.05 98.15L343.7 97.75L343.35 98.34L343 95.17L342.65 94.04L342.3 93.53L341.95 94.72L341.6 90.44L341.25 89.59L340.9 88.08L340.55 87.24L340.2 85.89L339.85 86.28L339.5 86.08L339.15 87.55L338.8 87.32L338.45 88.5L338.1 88.84L337.75 89.16L337.4 90.35L337.05 91.81L336.7 93.83L336.35 93.82L336 95.78L335.65 96.94L335.3 97.37L334.95 99.51L334.6 99.39L334.25 101.18L333.9 101.46L333.55 102.42L333.2 104.73L332.85 105.8L332.5 104.68L332.15 105.45L331.8 104.83L331.45 103.38L331.1 102.67L330.75 102.87L330.4 102.63L330.05 102.7L329.7 101.45L329.35 100.86L329 100.65L328.65 100.07L328.3 98.66L327.95 98.89L327.6 101.58L327.25 98.04L326.9 96.56L326.55 97.08L326.2 96.02L325.85 95.37L325.5 94.15L325.15 92.59L324.8 92.28L324.45 94.43L324.1 91.37L323.75 90.53L323.4 90.01L323.05 87.72L322.7 86.42L322.35 85L322 83.19L321.65 81.77L321.3 80.72L320.95 81.67L320.6 82.11L320.25 83.27L319.9 85.21L319.55 86.63L319.2 87.34L318.85 90.94L318.5 88.98L318.15 89.9L317.8 94.95L317.45 92.84L317.1 94.03L316.75 95.37L316.4 95.53L316.05 96.23L315.7 98.27L315.35 98.22L315 99.04L314.65 98.86L314.3 99.44L313.95 104.34L313.6 102.31L313.25 103.33L312.9 103.08L312.55 103.02L312.2 103.89L311.85 106.79L311.5 109.15L311.15 106.09L310.8 107.31L310.45 107.37L310.1 107.21L309.75 107.63L309.4 107.76L309.05 108.43L308.7 109.02L308.35 109.41L308 109.59L307.65 110.13L307.3 112.58L306.95 115.32L306.6 112.28L306.25 112.08L305.9 113.83L305.55 113.41L305.2 113.78L304.85 114.12L304.5 114.13L304.15 115.47L303.8 116.21L303.45 115.33L303.1 116.88L302.75 118.12L302.4 117.17L302.05 118.96L301.7 117.74L301.35 118.24L301 119.91L300.65 120.48L300.3 120.47L299.95 121.42L299.6 121.35L299.25 123.25L298.9 121.62L298.55 121.47L298.2 120.9L297.85 120.53L297.5 120.79L297.15 122.13L296.8 121.9L296.45 122.32L296.1 123.63L295.75 122.15L295.4 123.35L295.05 124.62L294.7 124.66L294.35 124.5L294 125.21L293.65 125.51L293.3 125.13L292.95 128.09L292.6 124.36L292.25 126.14L291.9 124.34L291.55 126.48L291.2 125.51L290.85 127.02L290.5 125.47Z" fill="#4B0082" stroke="#4B0082" stroke-width="0.5"/>
<path d="M291 106.3L291.19 106.24L291.38 106.17L291.57 106.1L291.76 106.04L291.94 105.97L292.13 105.9L292.32 105.83L292.5 105.76L292.69 105.68L292.88 105.61L293.06 105.53L293.25 105.46L293.43 105.38L293.61 105.3L293.8 105.22L293.98 105.14L294.16 105.06L294.34 104.97L294.53 104.89L294.71 104.8L294.89 104.72L295.07 104.63L295.25 104.54L295.43 104.45L295.6 104.36L295.78 104.27L295.96 104.18L296.14 104.09L296.31 103.99L296.49 103.9L296.67 103.8L296.84 103.71L297.02 103.61L297.19 103.51L297.36 103.41L297.54 103.31L297.71 103.21L297.88 103.11L298.06 103.01L298.23 102.91L298.4 102.8L298.57 102.7L298.74 102.59L298.91 102.49L299.08 102.38L299.25 102.27L299.41 102.17L299.58 102.06L299.75 101.95L299.92 101.84L300.08 101.73L300.25 101.61L300.41 101.5L300.58 101.39L300.74 101.28L300.91 101.16L301.07 101.05L301.24 100.93L301.4 100.81L301.56 100.69L301.71 100.57L301.87 100.45L302.03 100.32L302.18 100.2L302.34 100.07L302.49 99.94L302.64 99.81L302.79 99.68L302.94 99.54L303.09 99.41M307.78 94.5L307.91 94.34L308.04 94.19L308.17 94.04L308.29 93.88L308.42 93.73L308.55 93.57L308.67 93.41L308.8 93.26L308.92 93.1L309.04 92.94L309.17 92.79L309.29 92.63L309.41 92.47L309.53 92.31L309.65 92.15L309.77 91.99L309.89 91.83L310.01 91.67L310.13 91.51L310.25 91.35L310.37 91.19L310.48 91.02L310.6 90.86L310.72 90.7L310.83 90.54L310.95 90.37L311.06 90.21L311.18 90.05L311.29 89.88L311.41 89.72L311.52 89.55L311.64 89.39L311.75 89.22L311.86 89.06L311.97 88.89L312.09 88.73L312.2 88.56L312.31 88.39L312.42 88.23L312.52 88.06L312.63 87.89L312.74 87.72L312.84 87.55L312.95 87.38L313.05 87.21L313.15 87.04L313.26 86.86L313.36 86.69L313.46 86.52L313.55 86.34L313.65 86.17L313.74 85.99L313.84 85.81L313.93 85.64L314.02 85.46L314.11 85.28L314.2 85.1L314.29 84.92L314.37 84.74L314.46 84.56L314.55 84.38L314.63 84.2L314.72 84.02L314.8 83.84L314.88 83.65L314.96 83.47L315.05 83.29L315.13 83.11L315.21 82.92L315.29 82.74L315.37 82.56L315.45 82.37L315.52 82.19M317.87 75.81L317.93 75.62L317.99 75.43L318.05 75.24L318.11 75.05L318.17 74.85L318.23 74.66L318.29 74.47L318.35 74.28L318.4 74.09L318.46 73.9L318.52 73.71L318.57 73.51L318.63 73.32L318.68 73.13L318.74 72.94L318.79 72.74L318.84 72.55L318.9 72.36L318.95 72.17L319 71.97L319.05 71.78L319.1 71.59L319.16 71.39L319.21 71.2L319.26 71.01L319.31 70.81L319.36 70.62L319.41 70.42L319.46 70.23L319.51 70.04L319.56 69.84L319.6 69.65L319.65 69.46L319.7 69.26L319.75 69.07L319.8 68.87L319.85 68.68L319.89 68.48L319.94 68.29L319.99 68.1L320.04 67.9L320.08 67.71L320.13 67.51L320.18 67.32L320.23 67.12L320.27 66.93L320.32 66.74L320.37 66.54L320.42 66.35L320.46 66.15L320.51 65.96L320.56 65.76L320.6 65.57L320.65 65.38L320.7 65.18L320.75 64.99L320.79 64.79L320.84 64.6L320.89 64.4L320.93 64.21L320.98 64.01L321.02 63.82L321.07 63.63L321.12 63.43L321.16 63.24L321.21 63.04L321.25 62.85L321.3 62.65L321.34 62.46L321.39 62.26L321.43 62.07L321.48 61.87M322.74 55.6L322.77 55.4L322.8 55.2L322.84 55.01L322.87 54.81L322.9 54.61L322.94 54.41L322.97 54.22L323 54.02L323.04 53.82L323.07 53.63L323.1 53.43L323.13 53.23L323.17 53.03L323.2 52.84L323.23 52.64L323.26 52.44L323.29 52.24L323.33 52.05L323.36 51.85L323.39 51.65L323.42 51.45L323.46 51.26L323.49 51.06L323.52 50.86L323.55 50.67L323.59 50.47L323.62 50.27L323.65 50.07L323.68 49.87L323.71 49.68L323.74 49.48L323.77 49.28L323.8 49.08L323.83 48.89L323.86 48.69L323.89 48.49L323.92 48.29L323.95 48.09L323.98 47.9L324.01 47.7L324.04 47.5L324.07 47.3L324.1 47.11L324.14 46.91L324.17 46.71L324.21 46.52L324.24 46.32L324.28 46.12L324.32 45.93L324.35 45.73L324.39 45.53L324.43 45.34L324.47 45.14L324.51 44.95L324.55 44.75L324.58 44.55L324.63 44.36L324.67 44.16L324.71 43.96L324.76 43.77L324.81 43.58L324.88 43.39L324.97 43.21L325.11 43.34L325.17 43.53L325.23 43.72L325.28 43.92L325.32 44.11L325.37 44.31L325.4 44.5L325.44 44.7L325.48 44.89L325.52 45.09L325.56 45.29M326.63 51.8L326.66 52L326.69 52.19L326.72 52.39L326.75 52.59L326.79 52.79L326.82 52.98L326.85 53.18L326.88 53.38L326.91 53.58L326.94 53.77L326.97 53.97L327 54.17L327.04 54.37L327.07 54.56L327.1 54.76L327.13 54.96L327.16 55.16L327.19 55.35L327.22 55.55L327.25 55.75L327.29 55.95L327.32 56.14L327.35 56.34L327.38 56.54L327.41 56.74L327.44 56.93L327.48 57.13L327.51 57.33L327.54 57.53L327.57 57.72L327.6 57.92L327.64 58.12L327.67 58.32L327.7 58.51L327.74 58.71L327.77 58.91L327.8 59.11L327.83 59.3L327.87 59.5L327.9 59.7L327.93 59.89L327.97 60.09L328 60.29L328.03 60.49L328.07 60.68L328.1 60.88L328.13 61.08L328.17 61.27L328.2 61.47L328.23 61.67L328.27 61.87L328.3 62.06L328.33 62.26L328.37 62.46L328.4 62.65L328.44 62.85L328.47 63.05L328.5 63.25L328.54 63.44L328.57 63.64L328.61 63.84L328.64 64.03L328.68 64.23L328.71 64.43L328.75 64.62L328.78 64.82L328.82 65.02L328.86 65.21L328.89 65.41L328.93 65.61L328.96 65.81L329 66L329.04 66.2M330.36 72.87L330.4 73.06L330.45 73.26L330.49 73.45L330.53 73.65L330.58 73.84L330.63 74.04L330.67 74.23L330.72 74.43L330.77 74.62L330.82 74.81L330.87 75.01L330.92 75.2L330.97 75.39L331.02 75.59L331.07 75.78L331.13 75.97L331.18 76.17L331.23 76.36L331.28 76.55L331.34 76.75L331.39 76.94L331.44 77.13L331.5 77.32L331.55 77.52L331.61 77.71L331.66 77.9L331.72 78.09L331.77 78.29L331.83 78.48L331.88 78.67L331.94 78.86L331.99 79.06L332.05 79.25L332.1 79.44L332.16 79.63L332.21 79.82L332.26 80.02L332.32 80.21L332.37 80.4L332.43 80.6L332.48 80.79L332.53 80.98L332.58 81.17L332.64 81.37L332.69 81.56L332.74 81.75L332.79 81.95L332.84 82.14L332.89 82.33L332.94 82.53L332.99 82.72L333.05 82.91L333.1 83.11L333.15 83.3L333.2 83.49L333.25 83.69L333.31 83.88L333.36 84.07L333.41 84.26L333.47 84.46L333.52 84.65L333.58 84.84L333.63 85.03L333.69 85.23L333.75 85.42L333.81 85.61L333.87 85.8L333.93 85.99L333.99 86.18L334.05 86.37L334.12 86.56L334.18 86.75L334.25 86.94L334.32 87.12M337.12 93.09L337.22 93.27L337.32 93.44L337.42 93.61L337.52 93.78L337.63 93.96L337.73 94.13L337.84 94.3L337.94 94.47L338.05 94.64L338.15 94.81L338.26 94.97L338.37 95.14L338.48 95.31L338.59 95.48L338.69 95.65L338.8 95.81L338.91 95.98L339.02 96.15L339.13 96.32L339.24 96.49L339.35 96.65L339.46 96.82L339.56 96.99L339.67 97.16L339.78 97.33L339.89 97.5L339.99 97.67L340.1 97.84L340.2 98.01L340.31 98.18L340.41 98.35L340.51 98.52L340.61 98.69L340.71 98.86L340.82 99.04L340.92 99.21L341.02 99.38L341.12 99.55L341.22 99.73L341.32 99.9L341.42 100.07L341.52 100.25L341.62 100.42L341.72 100.59L341.82 100.76L341.92 100.94L342.02 101.11L342.12 101.28L342.22 101.46L342.32 101.63L342.42 101.81L342.52 101.98L342.62 102.15L342.72 102.33L342.82 102.5L342.91 102.68L343.01 102.85L343.11 103.02L343.21 103.2L343.3 103.37L343.4 103.55L343.5 103.73L343.59 103.9L343.69 104.08L343.78 104.25L343.88 104.43L343.97 104.6L344.07 104.78L344.16 104.96L344.25 105.13L344.35 105.31L344.44 105.49L344.53 105.67M347.33 111.42L347.43 111.59L347.53 111.77L347.63 111.94L347.72 112.12L347.82 112.29L347.92 112.46L348.02 112.64L348.12 112.81L348.22 112.98L348.32 113.16L348.43 113.33L348.53 113.5L348.63 113.67L348.73 113.84L348.84 114.01L348.94 114.19L349.04 114.36L349.15 114.53L349.25 114.7L349.36 114.87L349.46 115.04L349.57 115.21L349.67 115.38L349.78 115.55L349.88 115.72L349.99 115.89L350.1 116.06L350.2 116.23L350.31 116.4L350.41 116.57L350.52 116.74L350.63 116.9L350.73 117.07L350.84 117.24L350.95 117.41L351.05 117.58L351.16 117.75L351.27 117.92L351.38 118.09L351.49 118.26L351.59 118.42L351.71 118.59L351.82 118.76L351.93 118.92L352.04 119.09L352.15 119.25L352.27 119.42L352.38 119.58L352.49 119.75L352.61 119.91L352.72 120.08L352.83 120.24L352.95 120.4L353.06 120.57L353.18 120.73L353.29 120.9L353.4 121.06L353.52 121.23L353.63 121.39L353.74 121.56L353.86 121.72L353.97 121.89L354.08 122.05L354.19 122.22L354.3 122.39L354.41 122.55L354.52 122.72L354.63 122.89L354.74 123.06L354.84 123.23L354.95 123.4M357.67 128.96L357.76 129.14L357.84 129.32L357.93 129.5L358.01 129.68L358.1 129.86L358.19 130.04L358.28 130.22L358.37 130.4L358.46 130.57L358.56 130.75L358.66 130.92L358.76 131.1L358.86 131.27L358.96 131.44L359.07 131.61L359.17 131.78L359.27 131.96L359.37 132.13L359.47 132.3L359.57 132.48L359.67 132.65L359.77 132.82L359.87 133L359.97 133.17L360.08 133.34L360.18 133.51L360.29 133.68L360.4 133.84L360.52 134.01L360.64 134.16L360.76 134.32L360.9 134.47L361.04 134.61L361.19 134.74L361.36 134.85L361.53 134.94L361.73 134.98L361.92 134.97L362.12 134.93L362.3 134.84L362.47 134.74L362.63 134.62L362.78 134.49L362.94 134.36L363.08 134.22L363.22 134.08L363.36 133.93L363.49 133.78L363.62 133.63L363.75 133.48L363.87 133.32L364 133.17L364.12 133.01L364.24 132.85L364.36 132.69L364.48 132.53L364.59 132.37L364.71 132.2L364.82 132.04L364.93 131.87L365.04 131.7L365.14 131.53L365.24 131.36L365.34 131.18L365.44 131.01L365.53 130.83L365.63 130.66L365.72 130.48L365.81 130.3L365.9 130.12L365.98 129.94L366.07 129.76L366.15 129.58M368.32 123.14L368.37 122.95L368.43 122.75L368.48 122.56L368.54 122.37L368.59 122.18L368.65 121.99L368.7 121.79L368.76 121.6L368.82 121.41L368.87 121.22L368.93 121.03L368.98 120.83L369.04 120.64L369.09 120.45L369.15 120.26L369.21 120.07L369.26 119.87L369.32 119.68L369.37 119.49L369.42 119.3L369.48 119.1L369.53 118.91L369.59 118.72L369.64 118.53L369.69 118.33L369.75 118.14L369.8 117.95L369.85 117.75L369.9 117.56L369.95 117.37L370 117.17L370.05 116.98L370.1 116.79L370.15 116.59L370.2 116.4L370.25 116.2L370.3 116.01L370.34 115.82L370.39 115.62L370.44 115.43L370.49 115.23L370.53 115.04L370.58 114.84L370.62 114.65L370.67 114.45L370.72 114.26L370.76 114.06L370.81 113.87L370.85 113.67L370.9 113.48L370.94 113.28L370.99 113.09L371.03 112.89L371.07 112.7L371.12 112.5L371.16 112.31L371.2 112.11L371.24 111.92L371.28 111.72L371.32 111.53L371.36 111.33L371.4 111.13L371.44 110.94L371.48 110.74L371.52 110.55L371.56 110.35L371.6 110.15L371.63 109.96L371.67 109.76L371.7 109.56L371.74 109.37L371.77 109.17L371.8 108.97L371.84 108.77L371.87 108.58M372.82 101.24L372.85 101.04L372.87 100.84L372.9 100.64L372.93 100.45L372.96 100.25L372.99 100.05L373.02 99.85L373.05 99.66L373.08 99.46L373.12 99.26L373.15 99.06L373.18 98.86L373.21 98.67L373.24 98.47L373.27 98.27L373.3 98.07L373.34 97.88L373.37 97.68L373.4 97.48L373.43 97.29L373.47 97.09L373.5 96.89L373.53 96.69L373.57 96.5L373.6 96.3L373.64 96.1L373.67 95.91L373.71 95.71L373.74 95.51L373.78 95.32L373.82 95.12L373.85 94.92L373.89 94.73L373.93 94.53L373.97 94.33L374.01 94.14L374.05 93.94L374.09 93.75L374.14 93.55L374.18 93.36L374.22 93.16L374.27 92.97L374.31 92.77L374.36 92.58L374.41 92.38L374.45 92.19L374.5 91.99L374.55 91.8L374.59 91.6L374.64 91.41L374.68 91.21L374.72 91.02L374.77 90.82L374.81 90.63L374.85 90.43L374.9 90.24L374.94 90.04L374.99 89.85L375.04 89.65L375.09 89.46L375.14 89.27L375.2 89.08L375.27 88.89L375.33 88.7L375.42 88.52L375.5 88.34L375.62 88.18L375.77 88.05L375.96 88.01L376.14 88.11L376.31 88.21L376.46 88.34L376.61 88.47L376.75 88.61L376.89 88.76L377.02 88.91L377.16 89.06M379.84 95.05L379.92 95.24L380 95.42L380.08 95.6L380.16 95.78L380.25 95.96L380.33 96.15L380.41 96.33L380.5 96.51L380.58 96.69L380.66 96.87L380.75 97.06L380.83 97.24L380.91 97.42L381 97.6L381.08 97.78L381.17 97.96L381.25 98.14L381.34 98.32L381.43 98.5L381.52 98.68L381.6 98.86L381.69 99.04L381.78 99.22L381.87 99.4L381.96 99.58L382.05 99.76L382.14 99.93L382.24 100.11L382.33 100.29L382.42 100.46L382.52 100.64L382.61 100.82L382.71 100.99L382.81 101.17L382.91 101.34L383.01 101.51L383.11 101.69L383.21 101.86L383.31 102.03L383.42 102.2L383.52 102.37L383.63 102.54L383.74 102.71L383.84 102.88L383.95 103.05L384.06 103.21L384.17 103.38L384.28 103.55L384.39 103.71L384.51 103.88L384.62 104.04L384.73 104.21L384.85 104.37L384.96 104.54L385.08 104.7L385.19 104.86L385.31 105.02L385.43 105.19L385.54 105.35L385.66 105.51L385.78 105.67L385.9 105.83L386.02 105.99L386.13 106.15L386.25 106.32L386.37 106.48L386.49 106.64L386.61 106.8L386.73 106.95L386.86 107.11L386.98 107.27L387.1 107.43M391.34 112.48L391.48 112.63L391.62 112.77L391.76 112.91L391.9 113.06L392.04 113.2L392.18 113.34L392.32 113.48L392.46 113.62L392.61 113.76L392.75 113.9L392.89 114.04L393.04 114.18L393.18 114.32L393.32 114.46L393.47 114.6L393.62 114.73L393.76 114.87L393.91 115.01L394.05 115.14L394.2 115.28L394.35 115.41L394.5 115.55L394.65 115.68L394.79 115.82L394.94 115.95L395.09 116.08L395.24 116.21L395.39 116.35L395.54 116.48L395.69 116.61L395.84 116.74L395.99 116.88L396.14 117.01L396.29 117.14L396.44 117.27L396.6 117.4L396.75 117.53L396.9 117.66L397.05 117.79L397.21 117.91L397.36 118.04L397.52 118.17L397.67 118.29L397.83 118.42L397.99 118.54L398.14 118.67L398.3 118.79L398.46 118.91L398.62 119.03L398.78 119.15L398.94 119.27L399.1 119.39L399.27 119.5L399.43 119.62L399.59 119.73L399.76 119.85L399.92 119.96L400.09 120.07L400.25 120.19L400.42 120.3L400.58 120.41L400.75 120.52L400.92 120.63L401.08 120.74L401.25 120.85L401.42 120.96L401.58 121.07L401.75 121.18L401.92 121.29L402.09 121.4L402.26 121.5L402.43 121.61L402.6 121.72L402.77 121.82L402.94 121.93L403.11 122.03M408.92 125.15L409.1 125.24L409.28 125.32L409.46 125.4L409.65 125.48L409.83 125.56L410.01 125.64L410.2 125.72L410.38 125.8L410.57 125.87L410.75 125.95L410.94 126.03L411.12 126.1L411.31 126.17L411.49 126.25L411.68 126.32L411.87 126.39L412.05 126.47L412.24 126.54L412.43 126.61L412.61 126.68L412.8 126.75L412.99 126.82L413.18 126.89L413.36 126.96L413.55 127.03L413.74 127.09L413.93 127.16L414.12 127.23L414.31 127.3L414.49 127.36L414.68 127.43L414.87 127.5L415.06 127.56L415.25 127.63L415.44 127.7L415.63 127.76L415.82 127.83L416 127.89L416.19 127.96L416.38 128.02L416.57 128.09L416.76 128.15L416.95 128.22L417.14 128.28L417.33 128.35L417.52 128.41L417.71 128.48L417.89 128.54L418.08 128.61L418.27 128.68L418.46 128.74L418.65 128.81L418.84 128.87L419.03 128.94L419.22 129.01L419.41 129.07L419.59 129.14L419.78 129.21L419.97 129.27L420.16 129.34L420.35 129.41L420.53 129.48L420.72 129.55L420.91 129.62L421.1 129.69L421.28 129.76L421.47 129.83L421.66 129.9L421.85 129.97L422.03 130.04L422.22 130.11L422.41 130.19L422.59 130.26M428.73 132.7L428.91 132.77L429.1 132.84L429.29 132.91L429.47 132.98L429.66 133.05L429.85 133.12L430.04 133.19L430.22 133.25L430.41 133.32L430.6 133.39L430.79 133.46L430.98 133.52L431.17 133.59L431.36 133.65L431.55 133.72L431.73 133.78L431.92 133.85L432.11 133.91L432.3 133.97L432.5 134.03L432.69 134.09L432.88 134.15L433.07 134.21L433.26 134.27L433.45 134.33L433.64 134.39L433.83 134.44L434.02 134.5L434.22 134.56L434.41 134.62L434.6 134.67L434.79 134.73L434.98 134.78L435.18 134.84L435.37 134.89L435.56 134.95L435.75 135L435.95 135.06L436.14 135.11L436.33 135.16L436.52 135.22L436.72 135.27L436.91 135.32L437.1 135.38L437.3 135.43L437.49 135.48L437.68 135.53L437.87 135.58L438.07 135.63L438.26 135.69L438.45 135.74L438.65 135.79L438.84 135.84L439.04 135.89L439.23 135.94L439.42 135.99L439.62 136.04L439.81 136.09L440 136.14L440.2 136.19L440.39 136.24L440.58 136.29L440.78 136.34L440.97 136.39L441.17 136.44L441.36 136.49L441.55 136.54L441.75 136.59L441.94 136.64L442.13 136.69L442.33 136.73L442.52 136.78L442.72 136.83M449.14 138.36L449.33 138.41L449.53 138.45L449.72 138.5L449.92 138.54L450.11 138.59L450.31 138.63L450.5 138.68L450.7 138.72L450.89 138.77L451.09 138.81L451.28 138.85L451.48 138.9L451.67 138.94L451.87 138.99L452.06 139.03L452.26 139.08L452.45 139.12L452.65 139.17L452.84 139.21L453.04 139.25L453.23 139.3L453.43 139.34L453.62 139.39L453.82 139.43L454.01 139.47L454.21 139.52L454.4 139.56L454.6 139.6L454.79 139.65L454.99 139.69L455.18 139.73L455.38 139.78L455.57 139.82L455.77 139.86L455.96 139.91L456.16 139.95L456.35 139.99L456.55 140.03L456.75 140.08L456.94 140.12L457.14 140.16L457.33 140.2L457.53 140.25L457.72 140.29L457.92 140.33L458.11 140.37L458.31 140.42L458.5 140.46L458.7 140.5L458.9 140.54L459.09 140.59L459.29 140.63L459.48 140.67L459.68 140.71L459.87 140.75L460.07 140.8L460.26 140.84L460.46 140.88L460.66 140.92L460.85 140.96L461.05 141.01L461.24 141.05L461.44 141.09L461.63 141.13L461.83 141.17L462.02 141.22L462.22 141.26L462.41 141.3L462.61 141.34L462.81 141.39L463 141.43L463.2 141.47L463.39 141.51M469.84 142.9L470.04 142.95L470.24 142.99L470.43 143.03L470.63 143.07L470.82 143.11L471.02 143.16L471.21 143.2L471.41 143.24L471.6 143.28L471.8 143.32L471.99 143.37L472.19 143.41L472.39 143.45L472.58 143.49L472.78 143.53L472.97 143.58L473.17 143.62L473.36 143.66L473.56 143.7L473.75 143.74L473.95 143.79L474.15 143.83L474.34 143.87L474.54 143.91L474.73 143.95L474.93 143.99L475.12 144.04L475.32 144.08L475.52 144.12L475.71 144.16L475.91 144.2L476.1 144.25L476.3 144.29L476.49 144.33L476.69 144.37L476.88 144.41L477.08 144.45L477.28 144.5L477.47 144.54L477.67 144.58L477.86 144.62L478.06 144.66L478.25 144.7L478.45 144.75L478.64 144.79L478.84 144.83L479.04 144.87L479.23 144.91L479.43 144.95L479.62 145L479.82 145.04L480.01 145.08L480.21 145.12L480.41 145.16L480.6 145.2L480.8 145.24L480.99 145.29L481.19 145.33L481.38 145.37L481.58 145.41L481.77 145.45L481.97 145.49" fill="none" stroke="#B8860B" stroke-width="4"/>
</g>
<g clip-path="url(#cp2)">
<path d="M491.5 110.85L491.85 108.76L492.2 110.84L492.55 110.54L492.9 109.69L493.25 109.71L493.6 108.08L493.95 109.38L494.3 106.75L494.65 106.53L495 108.7L495.35 103.81L495.7 107.73L496.05 106.95L496.4 106.16L496.75 105.72L497.1 105.35L497.45 103.7L497.8 105.28L498.15 105.15L498.5 103.44L498.85 102.33L499.2 102.07L499.55 101.86L499.9 103.82L500.25 100.94L500.6 101.26L500.95 100.18L501.3 100.95L501.65 100.96L502 98.97L502.35 98.83L502.7 98.06L503.05 99.03L503.4 98.7L503.75 96.67L504.1 97.97L504.45 95.29L504.8 96.71L505.15 95.15L505.5 95.07L505.85 94.8L506.2 95.11L506.55 94.07L506.9 94.08L507.25 94.81L507.6 95.41L507.95 95.47L508.3 96.19L508.65 96.45L509 95.95L509.35 97.73L509.7 96.03L510.05 96.76L510.4 97.04L510.75 98.42L511.1 97.9L511.45 98.3L511.8 98.07L512.15 100.42L512.5 98.72L512.85 99.94L513.2 100.32L513.55 100.01L513.9 100.45L514.25 100.52L514.6 100.24L514.95 98.2L515.3 96.54L515.65 98.81L516 97.54L516.35 96.18L516.7 95.35L517.05 94.45L517.4 94.21L517.75 91.48L518.1 90.21L518.45 89.44L518.8 87.58L519.15 84.76L519.5 84.34L519.85 80.13L520.2 76.66L520.55 72.69L520.9 69.27L521.25 64.9L521.6 69.25L521.95 74.12L522.3 79.89L522.65 84.21L523 87.18L523.35 89.22L523.7 91.52L524.05 89.63L524.4 88.54L524.75 87.05L525.1 84.88L525.45 83.13L525.8 82.11L526.15 80.46L526.5 79.46L526.85 78.94L527.2 77.74L527.55 77.4L527.9 76.66L528.25 75.7L528.6 76.46L528.95 77.17L529.3 77.06L529.65 77.61L530 79.53L530.35 79.36L530.7 80.04L531.05 80.94L531.4 81.98L531.75 82.76L532.1 83.19L532.45 84.69L532.8 84.6L533.15 86.33L533.5 87.39L533.85 86.59L534.2 88.98L534.55 89.66L534.9 90.79L535.25 91.74L535.6 92.41L535.95 91.79L536.3 93.07L536.65 94.49L537 94.17L537.35 95.42L537.7 96.94L538.05 97.09L538.4 98.64L538.75 98.28L539.1 101.22L539.45 100.67L539.8 102.66L540.15 103.68L540.5 104.01L540.85 105.12L541.2 105.9L541.55 105.68L541.9 107.14L542.25 106.89L542.6 109.5L542.95 109.92L543.3 109.56L543.65 111.26L544 111.4L544.35 112.89L544.7 112.9L545.05 111.25L545.4 111.72L545.75 110.57L546.1 109.85L546.45 110.24L546.8 109.45L547.15 108.48L547.5 108.29L547.85 106.18L548.2 105.72L548.55 105.54L548.9 104.69L549.25 104.82L549.6 103.37L549.95 101.72L550.3 102.8L550.65 100.72L551 99.67L551.35 99.74L551.7 98.6L552.05 97.88L552.4 96.08L552.75 95.53L553.1 95.07L553.45 93.76L553.8 92.88L554.15 90.36L554.5 90.18L554.85 89.49L555.2 88.5L555.55 87.35L555.9 85.56L556.25 85.8L556.6 85.49L556.95 84.99L557.3 85.09L557.65 84.48L558 83.51L558.35 83.9L558.7 82.65L559.05 82.24L559.4 83.42L559.75 82.06L560.1 82.11L560.45 81.49L560.8 82.67L561.15 81.65L561.5 82.25L561.85 82.36L562.2 82.17L562.55 80.98L562.9 81.62L563.25 81.59L563.6 80.8L563.95 80.72L564.3 80.56L564.65 81.86L565 79.29L565.35 80.98L565.7 80.12L566.05 81.34L566.4 81.46L566.75 81.76L567.1 82.43L567.45 83.59L567.8 82.93L568.15 84.32L568.5 84.06L568.85 84.46L569.2 84.72L569.55 84.09L569.9 84.23L570.25 84.65L570.6 85.69L570.95 85.94L571.3 87.67L571.65 87.79L572 87.5L572.35 88.66L572.7 89.11L573.05 89.09L573.4 90.7L573.75 89.99L574.1 90.76L574.45 92.6L574.8 92.45L575.15 91.97L575.5 93.73L575.85 94.71L576.2 94.87L576.55 94.59L576.9 95.94L577.25 96.51L577.6 96.81L577.95 94.62L578.3 96.09L578.65 98.22L579 97.84L579.35 98.07L579.7 99.76L580.05 98.57L580.4 99.07L580.75 98.79L581.1 100.09L581.45 99.7L581.8 99.86L582.15 101.21L582.5 101.56L582.85 100.23L583.2 101.52L583.55 101.91L583.9 101.04L584.25 101.73L584.6 101.91L584.95 102.02L585.3 102.19L585.65 102.76L586 102.31L586.35 103.12L586.7 103.4L587.05 103.76L587.4 105.84L587.75 104.13L588.1 103.57L588.45 106.85L588.8 105.81L589.15 106.2L589.5 107.02L589.85 107.81L590.2 107.65L590.55 108.84L590.9 108.7L591.25 108.55L591.6 108.71L591.95 107.94L592.3 109.05L592.65 109.41L593 109.73L593.35 110.79L593.7 111.91L594.05 112.72L594.4 111.9L594.75 112.4L595.1 113.87L595.45 113.8L595.8 112.23L596.15 112.95L596.5 112.86L596.85 114.38L597.2 114.39L597.55 114.3L597.9 114.95L598.25 116.01L598.6 115.29L598.95 115.1L599.3 116.02L599.65 115.02L600 113.84L600.35 117.37L600.7 116.64L601.05 116.35L601.4 116.91L601.75 115.76L602.1 117.4L602.45 116.19L602.8 117.56L603.15 116.46L603.5 118.37L603.85 116.79L604.2 116.93L604.55 117.69L604.9 118.41L605.25 118.34L605.6 119.08L605.95 118.85L606.3 118.43L606.65 116.59L607 118.79L607.35 116.94L607.7 119.65L608.05 118.43L608.4 118.37L608.75 119.69L609.1 120.53L609.45 118.11L609.8 119.18L610.15 119.91L610.5 119L610.85 120.77L611.2 119.8L611.55 120.15L611.9 120.95L612.25 120.15L612.6 121.96L612.95 121.63L613.3 121.33L613.65 120.33L614 120.99L614.35 122.9L614.7 121.65L615.05 123.03L615.4 122.56L615.75 121.28L616.1 120.86L616.45 121.14L616.8 121.84L617.15 123.82L617.5 123.02L617.85 124.02L618.2 122.43L618.55 123.09L618.9 122.38L619.25 122.15L619.6 124.57L619.95 123.45L620.3 125.06L620.65 125.69L621 123.88L621.35 125.56L621.7 124.86L622.05 126.06L622.4 126.39L622.75 125.55L623.1 125.3L623.45 125.1L623.8 124.8L624.15 126.05L624.5 125.74L624.85 126.9L625.2 125.47L625.55 127.1L625.9 128.08L626.25 127.75L626.6 128.08L626.95 126.87L627.3 128.33L627.65 127.66L628 128.15L628.35 127.01L628.7 128.55L629.05 128.84L629.4 128.84L629.75 129.26L630.1 128.11L630.45 128.64L630.8 128.31L631.15 126.27L631.5 128.33L631.85 129.21L632.2 128.16L632.55 128.28L632.9 131.16L633.25 129.68L633.6 130.81L633.95 129.73L634.3 131.45L634.65 130.4L635 130.02L635.35 130.71L635.7 131.62L636.05 128.49L636.4 130.16L636.75 132.16L637.1 132.79L637.45 132.15L637.8 132.27L638.15 132.47L638.5 130.26L638.85 133.21L639.2 133.88L639.55 134.16L639.9 133L640.25 130.12L640.6 133.33L640.95 132.94L641.3 134.15L641.65 134.86L642 132.85L642.35 135.06L642.7 134.88L643.05 135.86L643.4 133.08L643.75 135.61L644.1 134.36L644.45 135.42L644.8 134.48L645.15 136.04L645.5 134.96L645.85 137.13L646.2 136.51L646.55 136.77L646.9 136.71L647.25 137.42L647.6 137.38L647.95 135.65L648.3 138.32L648.65 137.34L649 136.37L649.35 137.78L649.7 138L650.05 137.96L650.4 139.19L650.75 139.14L651.1 137.88L651.45 138.3L651.8 139.48L652.15 138.91L652.5 137.64L652.85 139.97L653.2 138.44L653.55 138.19L653.9 139.45L654.25 140.65L654.6 139.92L654.95 139.18L655.3 139.67L655.65 139.3L656 137.38L656.35 141.92L656.7 141.99L657.05 139.99L657.4 140.86L657.75 139.95L658.1 140.27L658.45 140.98L658.8 141.26L659.15 140.89L659.5 142.72L659.85 142.31L660.2 141.66L660.55 142.1L660.9 143.2L661.25 142.87L661.6 143.5L661.95 141.65L662.3 143.58L662.65 142.38L663 143.83L663.35 144.05L663.7 144.39L664.05 143.61L664.4 142.38L664.75 142.28L665.1 143.42L665.45 142.62L665.8 143.31L666.15 142.56L666.5 144.77L666.85 144.74L667.2 144.8L667.55 142.11L667.9 143.15L668.25 143.7L668.6 143.29L668.95 146.07L669.3 145.74L669.65 145.87L670 145.48L670.35 145.45L670.7 145.44L671.05 146.2L671.4 145.25L671.75 144.96L672.1 144.61L672.45 146.54L672.8 144.29L673.15 146.4L673.5 146.04L673.85 143.71L674.2 146.95L674.55 143.59L674.9 146.55L675.25 143.11L675.6 147.57L675.95 147.19L676.3 146.42L676.65 147.81L677 147.46L677.35 145.45L677.7 146.82L678.05 147.49L678.4 145.59L678.75 146.42L679.1 147.53L679.45 146.21L679.8 148.56L680.15 147.85L680.5 146.16L680.85 147.43L681.2 148.72L681.55 148.82L681.9 146.51L682.25 148.16L682.6 146.82L682.95 148.68L683.3 147.76L683.65 146.22L684 147.02L684 160.32L683.65 160.67L683.3 160.21L682.95 158.82L682.6 158.66L682.25 160.01L681.9 159.5L681.55 159.85L681.2 163.42L680.85 159.24L680.5 160.56L680.15 162.15L679.8 164.16L679.45 157.84L679.1 159.67L678.75 160.62L678.4 159.74L678.05 159.42L677.7 159.22L677.35 158.86L677 157.77L676.65 159.17L676.3 157.19L675.95 158.83L675.6 159.54L675.25 157.77L674.9 158.42L674.55 157.44L674.2 159.14L673.85 157.41L673.5 157.77L673.15 158.92L672.8 157.14L672.45 158.1L672.1 157.48L671.75 157.45L671.4 158.23L671.05 157.72L670.7 156.79L670.35 155.77L670 155.88L669.65 159.16L669.3 159.32L668.95 156.73L668.6 156.19L668.25 156.8L667.9 160.05L667.55 155.07L667.2 156.05L666.85 156.4L666.5 154.91L666.15 155.93L665.8 155.17L665.45 155.96L665.1 155.45L664.75 154.43L664.4 154.59L664.05 154.63L663.7 155.89L663.35 153.86L663 155.9L662.65 154.89L662.3 154.11L661.95 155.93L661.6 155.12L661.25 154.38L660.9 155.13L660.55 154.88L660.2 153.11L659.85 153.6L659.5 152.43L659.15 154.91L658.8 153.01L658.45 152.23L658.1 156.45L657.75 154.29L657.4 153.76L657.05 151.42L656.7 152.42L656.35 153.31L656 152.87L655.65 153.59L655.3 150.74L654.95 151.17L654.6 153.19L654.25 151.05L653.9 152.71L653.55 150.12L653.2 150.93L652.85 150.93L652.5 151.18L652.15 150.09L651.8 150.37L651.45 150.26L651.1 150.93L650.75 149.8L650.4 150.46L650.05 151.09L649.7 149.42L649.35 150.85L649 149.54L648.65 149.99L648.3 153.18L647.95 149.67L647.6 147.72L647.25 148.08L646.9 149.07L646.55 149.04L646.2 146.83L645.85 147.58L645.5 149.1L645.15 146.32L644.8 146.95L644.45 148.02L644.1 146.33L643.75 145.76L643.4 145.5L643.05 147.02L642.7 147.27L642.35 147.46L642 146.64L641.65 146.76L641.3 144.9L640.95 144.71L640.6 146.2L640.25 144.84L639.9 144.27L639.55 149.25L639.2 144.47L638.85 143.9L638.5 143.12L638.15 142.89L637.8 145.28L637.45 143.43L637.1 142.43L636.75 142.45L636.4 144.7L636.05 142.07L635.7 142.44L635.35 142.77L635 143.56L634.65 143.46L634.3 141.06L633.95 142.12L633.6 144.13L633.25 140.72L632.9 142.32L632.55 141.51L632.2 142.35L631.85 142.44L631.5 142.07L631.15 141.37L630.8 142.22L630.45 139.6L630.1 141.84L629.75 141.4L629.4 139.06L629.05 140.07L628.7 140.53L628.35 140.12L628 140.13L627.65 138.63L627.3 140.14L626.95 137.79L626.6 138.4L626.25 138.11L625.9 139.78L625.55 138.83L625.2 139.11L624.85 138.71L624.5 138.28L624.15 136.51L623.8 138.92L623.45 137.77L623.1 138.18L622.75 140.81L622.4 137.74L622.05 135.96L621.7 137.4L621.35 135.47L621 137.24L620.65 135.74L620.3 137.03L619.95 134.31L619.6 137.67L619.25 134.63L618.9 135.4L618.55 135.22L618.2 134.52L617.85 135.11L617.5 133.18L617.15 134.93L616.8 134.58L616.45 135.56L616.1 137.82L615.75 136.19L615.4 133.2L615.05 133.69L614.7 132.81L614.35 133.34L614 132.12L613.65 132.88L613.3 131.35L612.95 132.41L612.6 132.22L612.25 131.46L611.9 131.8L611.55 130.54L611.2 134.09L610.85 132.01L610.5 129.9L610.15 129.39L609.8 130.29L609.45 129.75L609.1 129.62L608.75 128.55L608.4 132.91L608.05 128.7L607.7 129.73L607.35 129.44L607 128.5L606.65 129.48L606.3 127.69L605.95 129.06L605.6 127.53L605.25 128.42L604.9 127.54L604.55 128.93L604.2 127.33L603.85 126.96L603.5 128.23L603.15 127.43L602.8 127.35L602.45 128.6L602.1 125.96L601.75 125.62L601.4 126.53L601.05 129.87L600.7 125.65L600.35 125.57L600 126.41L599.65 126.22L599.3 125.42L598.95 124.08L598.6 124.84L598.25 124.77L597.9 123.65L597.55 124.32L597.2 124.76L596.85 123.62L596.5 122.36L596.15 122.26L595.8 123.8L595.45 121.6L595.1 123.13L594.75 121.6L594.4 121.68L594.05 120.39L593.7 119.9L593.35 120.5L593 120.02L592.65 119.02L592.3 119.24L591.95 118.71L591.6 117.9L591.25 119.4L590.9 120.16L590.55 117.89L590.2 116.61L589.85 116.83L589.5 117.34L589.15 116.06L588.8 116.39L588.45 116.15L588.1 114.7L587.75 115.66L587.4 115.52L587.05 115.06L586.7 114.59L586.35 113.91L586 112.66L585.65 113.48L585.3 111.56L584.95 111.08L584.6 112.3L584.25 111.79L583.9 111.65L583.55 111.94L583.2 113.94L582.85 110.03L582.5 110.5L582.15 110.33L581.8 108.92L581.45 109.24L581.1 108.32L580.75 109.59L580.4 108L580.05 108.89L579.7 107.17L579.35 106.55L579 107.23L578.65 106.07L578.3 106.6L577.95 106.28L577.6 104.97L577.25 105.1L576.9 104.18L576.55 103.48L576.2 103.78L575.85 102.38L575.5 102.99L575.15 103.5L574.8 101.01L574.45 99.61L574.1 100.19L573.75 98.55L573.4 98.54L573.05 97.63L572.7 96.92L572.35 96.92L572 97.17L571.65 95.78L571.3 95.91L570.95 94.31L570.6 94.9L570.25 92.61L569.9 92.48L569.55 91.86L569.2 91.84L568.85 92.27L568.5 91.34L568.15 91.16L567.8 90.19L567.45 90.89L567.1 89.8L566.75 90.49L566.4 88.73L566.05 89.3L565.7 88.99L565.35 88.06L565 88.59L564.65 88.98L564.3 87.9L563.95 88.74L563.6 89.94L563.25 89.83L562.9 90.97L562.55 88.51L562.2 88.57L561.85 88.29L561.5 89.33L561.15 88.6L560.8 88.65L560.45 89.44L560.1 89.4L559.75 89.4L559.4 89.67L559.05 91.4L558.7 90.88L558.35 90.59L558 92.16L557.65 92.23L557.3 95.89L556.95 92.15L556.6 94.14L556.25 94.66L555.9 94.68L555.55 95.46L555.2 97.62L554.85 99.01L554.5 100L554.15 100.53L553.8 101.52L553.45 101.72L553.1 103.94L552.75 104.09L552.4 106L552.05 107.16L551.7 107.42L551.35 109.26L551 110.07L550.65 110.09L550.3 111.28L549.95 112.18L549.6 114.73L549.25 112.7L548.9 114.5L548.55 115.15L548.2 116.2L547.85 118.98L547.5 117.84L547.15 117.89L546.8 118.29L546.45 117.99L546.1 122.56L545.75 118.65L545.4 119.87L545.05 121.11L544.7 121.7L544.35 121.35L544 122.17L543.65 120.26L543.3 119.9L542.95 120.09L542.6 118.03L542.25 116.27L541.9 115.3L541.55 114.84L541.2 113.85L540.85 113.39L540.5 113.48L540.15 111.15L539.8 111.66L539.45 110.23L539.1 109.33L538.75 107.85L538.4 107L538.05 107.25L537.7 106.26L537.35 104.34L537 104.25L536.65 102.85L536.3 101.18L535.95 100L535.6 100.36L535.25 101.1L534.9 97.73L534.55 97.91L534.2 96.55L533.85 95.71L533.5 93.73L533.15 93.86L532.8 91.86L532.45 91.85L532.1 91.04L531.75 89.35L531.4 89.43L531.05 88.76L530.7 88.16L530.35 86.35L530 85.72L529.65 84.76L529.3 83.15L528.95 82.44L528.6 82.02L528.25 80.97L527.9 82.13L527.55 83.35L527.2 83.66L526.85 84.59L526.5 85.95L526.15 85.83L525.8 87.97L525.45 88.5L525.1 90.76L524.75 92.07L524.4 92.69L524.05 96.05L523.7 95.95L523.35 95.36L523 91.41L522.65 88.28L522.3 83.95L521.95 78.18L521.6 71.91L521.25 67.62L520.9 71.83L520.55 75.84L520.2 80.07L519.85 83.79L519.5 87.72L519.15 90.18L518.8 92.64L518.45 94.62L518.1 96.81L517.75 99.86L517.4 102.36L517.05 104.02L516.7 104.23L516.35 106.79L516 110.19L515.65 108.01L515.3 108.92L514.95 109.68L514.6 110.92L514.25 111.09L513.9 109.99L513.55 110.85L513.2 110.28L512.85 111.07L512.5 110.07L512.15 109.93L511.8 108.41L511.45 109.78L511.1 110.66L510.75 107.92L510.4 109.68L510.05 107.76L509.7 108.8L509.35 106.67L509 108.2L508.65 105.83L508.3 105.79L507.95 105.01L507.6 104.61L507.25 105.23L506.9 104.53L506.55 104.26L506.2 103.61L505.85 103.84L505.5 105.56L505.15 104.48L504.8 105.54L504.45 105.5L504.1 108.37L503.75 108.83L503.4 108.47L503.05 107.93L502.7 108.48L502.35 110.89L502 113.84L501.65 115.42L501.3 112.97L500.95 112.48L500.6 114.07L500.25 113.7L499.9 115.99L499.55 113.7L499.2 119.44L498.85 117.01L498.5 117.45L498.15 117.07L497.8 117.13L497.45 117.69L497.1 120.68L496.75 117.12L496.4 118.01L496.05 117.72L495.7 119.12L495.35 120.14L495 124L494.65 118.7L494.3 119.83L493.95 121.58L493.6 121.94L493.25 121.92L492.9 120.74L492.55 123.11L492.2 122.66L491.85 124.32L491.5 123.78Z" fill="#4B0082" stroke="#4B0082" stroke-width="0.5"/>
<path d="M492.35 108.01L492.53 107.91L492.7 107.81L492.87 107.71L493.05 107.61L493.22 107.51L493.39 107.41L493.57 107.31L493.74 107.21L493.91 107.11L494.08 107L494.25 106.9L494.42 106.79L494.59 106.69L494.76 106.58L494.93 106.47L495.1 106.37L495.26 106.26L495.43 106.15L495.6 106.04L495.77 105.93L495.93 105.82L496.1 105.7L496.26 105.59L496.43 105.48L496.59 105.36L496.76 105.25L496.92 105.13L497.08 105.02L497.25 104.9L497.41 104.79L497.57 104.67L497.73 104.55L497.89 104.43L498.05 104.31L498.21 104.19L498.37 104.07L498.53 103.95L498.69 103.83L498.85 103.71L499.01 103.58L499.16 103.46L499.32 103.34L499.48 103.21L499.63 103.09L499.79 102.96L499.94 102.84L500.1 102.71L500.25 102.58L500.41 102.45L500.56 102.33L500.71 102.2L500.87 102.07L501.02 101.94L501.17 101.81L501.32 101.68L501.48 101.55L501.63 101.42L501.78 101.29L501.93 101.15L502.08 101.02L502.23 100.89L502.37 100.75L502.52 100.62L502.67 100.48L502.82 100.35L502.96 100.21L503.11 100.07L503.25 99.94L503.39 99.8L503.54 99.66L503.68 99.52L503.82 99.37L503.96 99.23M508.03 94.3L508.14 94.14L508.25 93.97L508.35 93.8L508.46 93.63L508.56 93.46L508.67 93.29L508.77 93.12L508.87 92.94L508.97 92.77L509.07 92.6L509.17 92.43L509.28 92.25L509.38 92.08L509.48 91.91L509.58 91.73L509.68 91.56L509.78 91.39L509.88 91.21L509.98 91.04L510.08 90.87L510.18 90.69L510.28 90.52L510.38 90.35L510.47 90.17L510.57 90L510.67 89.83L510.77 89.65L510.87 89.48L510.96 89.3L511.06 89.13L511.16 88.95L511.25 88.78L511.35 88.6L511.44 88.42L511.54 88.25L511.63 88.07L511.73 87.89L511.82 87.72L511.91 87.54L512 87.36L512.1 87.19L512.19 87.01L512.28 86.83L512.37 86.65L512.46 86.47L512.55 86.3L512.64 86.12L512.73 85.94L512.82 85.76L512.91 85.58L513 85.4L513.09 85.22L513.17 85.04L513.26 84.86L513.35 84.68L513.44 84.5L513.52 84.32L513.61 84.14L513.69 83.96L513.78 83.78L513.86 83.6L513.95 83.42L514.03 83.24L514.12 83.06L514.2 82.87L514.29 82.69L514.37 82.51L514.45 82.33L514.54 82.15L514.62 81.97L514.7 81.78L514.79 81.6L514.87 81.42L514.95 81.24M517.5 75.15L517.58 74.97L517.66 74.78L517.74 74.6L517.82 74.41L517.9 74.23L517.98 74.05L518.06 73.87L518.14 73.68L518.22 73.5L518.3 73.31L518.37 73.13L518.45 72.95L518.53 72.76L518.61 72.58L518.68 72.39L518.76 72.21L518.84 72.02L518.92 71.84L519 71.66L519.08 71.48L519.16 71.29L519.25 71.11L519.34 70.93L519.43 70.75L519.52 70.58L519.61 70.4L519.71 70.23L519.81 70.05L519.92 69.88L520.03 69.72L520.14 69.55L520.24 69.38L520.35 69.21L520.47 69.05L520.6 68.9L520.73 68.75L520.9 68.67L521.1 68.64L521.27 68.72L521.43 68.83L521.59 68.96L521.73 69.1L521.86 69.25L522 69.4L522.12 69.56L522.24 69.71L522.35 69.88L522.46 70.05L522.57 70.22L522.67 70.39L522.77 70.56L522.86 70.74L522.95 70.92L523.04 71.1L523.12 71.28L523.21 71.46L523.28 71.65L523.36 71.83L523.44 72.02L523.51 72.2L523.59 72.39L523.66 72.57L523.73 72.76L523.8 72.95L523.87 73.14L523.94 73.32L524 73.51L524.07 73.7L524.14 73.89L524.2 74.08L524.26 74.27L524.32 74.46L524.38 74.65L524.44 74.84L524.5 75.03L524.56 75.23M526.36 82.2L526.42 82.39L526.48 82.58L526.53 82.77L526.59 82.96L526.65 83.15L526.71 83.34L526.77 83.53L526.84 83.72L526.9 83.91L526.96 84.1L527.02 84.29L527.08 84.48L527.15 84.67L527.21 84.86L527.27 85.05L527.33 85.24L527.4 85.43L527.46 85.62L527.53 85.81L527.59 86L527.65 86.19L527.72 86.38L527.78 86.57L527.85 86.76L527.91 86.95L527.97 87.14L528.04 87.33L528.1 87.52L528.17 87.71L528.23 87.9L528.29 88.09L528.36 88.27L528.42 88.46L528.48 88.65L528.55 88.84L528.61 89.03L528.67 89.22L528.74 89.41L528.8 89.6L528.86 89.79L528.93 89.98L528.99 90.17L529.05 90.36L529.12 90.55L529.18 90.74L529.24 90.93L529.31 91.12L529.37 91.31L529.43 91.5L529.5 91.69L529.56 91.88L529.62 92.07L529.69 92.26L529.75 92.45L529.82 92.64L529.88 92.83L529.95 93.02L530.01 93.21L530.07 93.39L530.14 93.58L530.21 93.77L530.27 93.96L530.34 94.15L530.4 94.34L530.47 94.53L530.54 94.72L530.6 94.9L530.67 95.09L530.74 95.28L530.81 95.47L530.87 95.66L530.94 95.85L531.01 96.03L531.08 96.22M533.53 102.56L533.61 102.75L533.69 102.93L533.77 103.11L533.85 103.3L533.93 103.48L534.01 103.66L534.1 103.84L534.18 104.03L534.26 104.21L534.35 104.39L534.43 104.57L534.52 104.75L534.61 104.93L534.7 105.11L534.79 105.29L534.88 105.46L534.98 105.64L535.07 105.82L535.16 105.99L535.26 106.17L535.36 106.34L535.46 106.52L535.55 106.69L535.65 106.86L535.75 107.04L535.85 107.21L535.95 107.38L536.05 107.56L536.16 107.73L536.26 107.9L536.36 108.07L536.46 108.25L536.56 108.42L536.67 108.59L536.77 108.76L536.87 108.93L536.97 109.1L537.07 109.28L537.18 109.45L537.28 109.62L537.38 109.79L537.48 109.97L537.58 110.14L537.68 110.31L537.78 110.48L537.88 110.66L537.99 110.83L538.09 111L538.19 111.17L538.29 111.35L538.39 111.52L538.5 111.69L538.6 111.86L538.7 112.03L538.8 112.2L538.91 112.38L539.01 112.55L539.11 112.72L539.22 112.89L539.32 113.06L539.42 113.23L539.53 113.4L539.63 113.57L539.73 113.75L539.84 113.92L539.94 114.09L540.05 114.26L540.15 114.43L540.25 114.6L540.36 114.77L540.46 114.94L540.57 115.11L540.67 115.28L540.77 115.46M544.08 120.18L544.22 120.33L544.38 120.45L544.53 120.58L544.69 120.7L544.87 120.8L545.04 120.89L545.23 120.95L545.43 120.99L545.63 120.98L545.82 120.95L546.01 120.89L546.2 120.82L546.38 120.74L546.56 120.64L546.73 120.53L546.9 120.43L547.06 120.31L547.22 120.19L547.37 120.07L547.53 119.94L547.68 119.81L547.82 119.67L547.97 119.53L548.11 119.38L548.24 119.23L548.37 119.08L548.49 118.92L548.61 118.76L548.72 118.6L548.83 118.43L548.94 118.26L549.04 118.09L549.14 117.91L549.23 117.74L549.32 117.56L549.42 117.38L549.5 117.2L549.59 117.02L549.67 116.84L549.76 116.66L549.84 116.48L549.92 116.29L549.99 116.11L550.07 115.92L550.15 115.74L550.22 115.55L550.3 115.37L550.37 115.18L550.44 115L550.52 114.81L550.59 114.62L550.66 114.44L550.73 114.25L550.8 114.06L550.87 113.87L550.94 113.69L551 113.5L551.07 113.31L551.13 113.12L551.19 112.93L551.25 112.74L551.31 112.55L551.37 112.35L551.42 112.16L551.48 111.97L551.54 111.78L551.59 111.59L551.65 111.39L551.7 111.2L551.75 111.01L551.81 110.82M553.84 103.91L553.9 103.72L553.96 103.53L554.03 103.34L554.09 103.15L554.15 102.96L554.22 102.77L554.28 102.58L554.34 102.39L554.41 102.2L554.47 102.01L554.53 101.82L554.6 101.63L554.66 101.44L554.72 101.25L554.79 101.06L554.85 100.87L554.91 100.68L554.97 100.49L555.03 100.3L555.1 100.11L555.16 99.92L555.22 99.73L555.28 99.54L555.34 99.35L555.4 99.16L555.46 98.97L555.52 98.78L555.57 98.59L555.63 98.39L555.69 98.2L555.74 98.01L555.8 97.82L555.86 97.63L555.91 97.43L555.96 97.24L556.02 97.05L556.07 96.86L556.12 96.66L556.18 96.47L556.23 96.28L556.28 96.08L556.33 95.89L556.38 95.7L556.43 95.5L556.48 95.31L556.53 95.12L556.59 94.92L556.64 94.73L556.69 94.54L556.74 94.34L556.79 94.15L556.84 93.96L556.89 93.76L556.94 93.57L556.99 93.38L557.05 93.18L557.1 92.99L557.15 92.8L557.21 92.6L557.26 92.41L557.31 92.22L557.37 92.03L557.42 91.84L557.48 91.64L557.54 91.45L557.6 91.26L557.65 91.07L557.71 90.88L557.77 90.69L557.84 90.5L557.9 90.31L557.96 90.12L558.02 89.93L558.09 89.74L558.15 89.55L558.22 89.36M560.91 83.13L561 82.95L561.1 82.78L561.2 82.6L561.3 82.43L561.4 82.26L561.5 82.08L561.61 81.91L561.72 81.75L561.83 81.58L561.95 81.42L562.07 81.26L562.2 81.11L562.34 80.97L562.49 80.83L562.64 80.71L562.81 80.6L562.99 80.51L563.18 80.44L563.36 80.38L563.56 80.32L563.75 80.27L563.94 80.22L564.14 80.18L564.34 80.14L564.53 80.11L564.73 80.08L564.93 80.05L565.13 80.03L565.33 80.01L565.53 80.01L565.73 80.02L565.92 80.06L566.1 80.14L566.28 80.23L566.44 80.35L566.6 80.47L566.75 80.6L566.89 80.74L567.04 80.88L567.17 81.03L567.3 81.18L567.43 81.33L567.56 81.49L567.69 81.64L567.82 81.79L567.95 81.94L568.08 82.09L568.21 82.24L568.34 82.4L568.47 82.55L568.59 82.71L568.72 82.86L568.83 83.03L568.95 83.19L569.07 83.35L569.18 83.51L569.3 83.68L569.41 83.85L569.52 84.01L569.62 84.18L569.73 84.35L569.84 84.52L569.94 84.69L570.04 84.86L570.15 85.03L570.25 85.21L570.35 85.38L570.45 85.55L570.55 85.73L570.65 85.9L570.74 86.08L570.84 86.25L570.94 86.42L571.03 86.6L571.13 86.77M574.02 92.93L574.1 93.11L574.18 93.29L574.26 93.48L574.34 93.66L574.43 93.84L574.51 94.02L574.59 94.21L574.67 94.39L574.76 94.57L574.84 94.75L574.91 94.94L574.99 95.12L575.07 95.31L575.15 95.49L575.23 95.67L575.3 95.86L575.38 96.04L575.45 96.23L575.53 96.41L575.61 96.6L575.68 96.78L575.76 96.97L575.83 97.15L575.91 97.34L575.98 97.52L576.06 97.71L576.14 97.89L576.22 98.08L576.29 98.26L576.37 98.45L576.45 98.63L576.53 98.81L576.61 99L576.7 99.18L576.78 99.36L576.86 99.54L576.95 99.72L577.04 99.9L577.13 100.08L577.22 100.26L577.31 100.44L577.4 100.61L577.49 100.79L577.59 100.97L577.69 101.14L577.79 101.31L577.89 101.48L578 101.66L578.1 101.82L578.21 101.99L578.33 102.16L578.44 102.32L578.55 102.49L578.67 102.65L578.79 102.81L578.91 102.97L579.04 103.12L579.16 103.28L579.29 103.44L579.41 103.59L579.54 103.74L579.67 103.9L579.8 104.05L579.93 104.2L580.06 104.35L580.19 104.5L580.33 104.65L580.46 104.8L580.59 104.95L580.73 105.1L580.86 105.25L581 105.39L581.13 105.54M585.66 110.34L585.8 110.48L585.95 110.62L586.09 110.76L586.24 110.89L586.38 111.03L586.53 111.17L586.68 111.3L586.83 111.43L586.98 111.57L587.13 111.7L587.28 111.83L587.43 111.96L587.58 112.09L587.73 112.22L587.88 112.35L588.04 112.48L588.19 112.61L588.35 112.73L588.5 112.86L588.66 112.99L588.81 113.11L588.97 113.24L589.13 113.36L589.28 113.48L589.44 113.61L589.6 113.73L589.76 113.85L589.92 113.97L590.08 114.09L590.24 114.21L590.4 114.33L590.56 114.45L590.72 114.57L590.88 114.69L591.04 114.81L591.2 114.93L591.36 115.04L591.53 115.16L591.69 115.28L591.85 115.39L592.01 115.51L592.18 115.63L592.34 115.74L592.5 115.86L592.67 115.97L592.83 116.09L593 116.2L593.16 116.31L593.32 116.43L593.49 116.54L593.65 116.65L593.82 116.77L593.99 116.88L594.15 116.99L594.32 117.1L594.48 117.21L594.65 117.32L594.82 117.43L594.98 117.54L595.15 117.65L595.32 117.76L595.49 117.87L595.66 117.97L595.83 118.08L596 118.19L596.17 118.29L596.34 118.4L596.51 118.5L596.68 118.6L596.85 118.7L597.03 118.8L597.2 118.9L597.37 119M603.34 121.81L603.53 121.89L603.71 121.97L603.9 122.04L604.08 122.12L604.27 122.2L604.45 122.27L604.63 122.35L604.82 122.43L605 122.5L605.19 122.58L605.37 122.65L605.56 122.73L605.75 122.8L605.93 122.88L606.12 122.95L606.3 123.03L606.49 123.1L606.68 123.17L606.86 123.24L607.05 123.32L607.23 123.39L607.42 123.46L607.61 123.53L607.8 123.6L607.98 123.67L608.17 123.74L608.36 123.81L608.54 123.88L608.73 123.95L608.92 124.03L609.11 124.1L609.29 124.17L609.48 124.24L609.67 124.31L609.85 124.38L610.04 124.45L610.23 124.52L610.42 124.59L610.6 124.66L610.79 124.73L610.98 124.8L611.16 124.87L611.35 124.94L611.54 125.01L611.72 125.09L611.91 125.16L612.1 125.23L612.28 125.3L612.47 125.38L612.66 125.45L612.84 125.52L613.03 125.6L613.21 125.67L613.4 125.74L613.59 125.82L613.77 125.89L613.96 125.96L614.14 126.04L614.33 126.11L614.52 126.18L614.7 126.26L614.89 126.33L615.08 126.4L615.26 126.47L615.45 126.55L615.63 126.62L615.82 126.69L616.01 126.76L616.19 126.83L616.38 126.9L616.57 126.98L616.76 127.05L616.94 127.12M623.21 129.19L623.4 129.25L623.59 129.32L623.78 129.38L623.97 129.44L624.16 129.51L624.35 129.57L624.53 129.64L624.72 129.7L624.91 129.77L625.1 129.84L625.29 129.9L625.48 129.97L625.66 130.04L625.85 130.11L626.04 130.18L626.22 130.26L626.41 130.33L626.6 130.4L626.78 130.47L626.97 130.55L627.15 130.62L627.34 130.7L627.53 130.77L627.71 130.85L627.9 130.93L628.08 131L628.26 131.08L628.45 131.16L628.63 131.23L628.82 131.31L629 131.39L629.19 131.47L629.37 131.55L629.55 131.62L629.74 131.7L629.92 131.78L630.11 131.86L630.29 131.94L630.47 132.02L630.66 132.1L630.84 132.18L631.03 132.25L631.21 132.33L631.39 132.41L631.58 132.49L631.76 132.57L631.95 132.65L632.13 132.72L632.31 132.8L632.5 132.88L632.68 132.95L632.87 133.03L633.05 133.11L633.24 133.18L633.42 133.26L633.61 133.33L633.8 133.41L633.98 133.48L634.17 133.55L634.35 133.63L634.54 133.7L634.73 133.77L634.91 133.84L635.1 133.91L635.29 133.98L635.48 134.05L635.67 134.11L635.85 134.18L636.04 134.25L636.23 134.31L636.42 134.37L636.61 134.44L636.8 134.5L636.99 134.56L637.18 134.62M643.54 136.39L643.74 136.43L643.93 136.48L644.12 136.53L644.32 136.58L644.51 136.63L644.71 136.67L644.9 136.72L645.1 136.77L645.29 136.81L645.48 136.86L645.68 136.91L645.87 136.95L646.07 137L646.26 137.05L646.46 137.09L646.65 137.14L646.85 137.18L647.04 137.23L647.24 137.27L647.43 137.32L647.63 137.36L647.82 137.4L648.02 137.45L648.21 137.49L648.41 137.54L648.6 137.58L648.8 137.62L648.99 137.67L649.19 137.71L649.38 137.75L649.58 137.8L649.77 137.84L649.97 137.88L650.17 137.92L650.36 137.97L650.56 138.01L650.75 138.05L650.95 138.09L651.14 138.14L651.34 138.18L651.53 138.22L651.73 138.26L651.92 138.3L652.12 138.35L652.32 138.39L652.51 138.43L652.71 138.47L652.9 138.51L653.1 138.56L653.29 138.6L653.49 138.64L653.68 138.68L653.88 138.72L654.08 138.77L654.27 138.81L654.47 138.85L654.66 138.89L654.86 138.93L655.05 138.98L655.25 139.02L655.44 139.06L655.64 139.1L655.83 139.15L656.03 139.19L656.23 139.23L656.42 139.27L656.62 139.32L656.81 139.36L657.01 139.4L657.2 139.44L657.4 139.49L657.59 139.53M664.04 140.93L664.24 140.97L664.44 141.01L664.63 141.05L664.83 141.09L665.02 141.13L665.22 141.17L665.42 141.21L665.61 141.25L665.81 141.29L666 141.32L666.2 141.36L666.4 141.4L666.59 141.44L666.79 141.48L666.98 141.52L667.18 141.56L667.38 141.6L667.57 141.64L667.77 141.68L667.97 141.72L668.16 141.76L668.36 141.79L668.55 141.83L668.75 141.87L668.95 141.91L669.14 141.95L669.34 141.99L669.53 142.03L669.73 142.07L669.93 142.1L670.12 142.14L670.32 142.18L670.52 142.22L670.71 142.26L670.91 142.3L671.11 142.33L671.3 142.37L671.5 142.41L671.69 142.45L671.89 142.49L672.09 142.52L672.28 142.56L672.48 142.6L672.68 142.64L672.87 142.67L673.07 142.71L673.27 142.75L673.46 142.79L673.66 142.82L673.86 142.86L674.05 142.9L674.25 142.93L674.44 142.97L674.64 143.01L674.84 143.05L675.03 143.08L675.23 143.12L675.43 143.16L675.62 143.19L675.82 143.23L676.02 143.26L676.21 143.3L676.41 143.34L676.61 143.37L676.8 143.41L677 143.45L677.2 143.48L677.39 143.52L677.59 143.55L677.79 143.59L677.98 143.62L678.18 143.66L678.38 143.7" fill="none" stroke="#B8860B" stroke-width="4"/>
</g>
<line x1="82" y1="0" x2="82" y2="179.9" stroke="#8a8a8a" stroke-width="1.15"/>
<line x1="281.2" y1="0" x2="281.2" y2="179.9" stroke="#8a8a8a" stroke-width="1.15"/>
<line x1="81.5" y1="179.4" x2="281.7" y2="179.4" stroke="#8a8a8a" stroke-width="1.15"/>
<line x1="81.5" y1="0.5" x2="281.7" y2="0.5" stroke="#6e6e6e" stroke-width="1.0"/>
<line x1="79" x2="82" y1="25.6" y2="25.6" stroke="#8a8a8a" stroke-width="1"/>
<line x1="79" x2="82" y1="76.86" y2="76.86" stroke="#8a8a8a" stroke-width="1"/>
<line x1="79" x2="82" y1="128.12" y2="128.12" stroke="#8a8a8a" stroke-width="1"/>
<line x1="79" x2="82" y1="179.38" y2="179.38" stroke="#8a8a8a" stroke-width="1"/>
<line x1="139" x2="139" y1="179.4" y2="182.4" stroke="#8a8a8a" stroke-width="1"/>
<line x1="233.4" x2="233.4" y1="179.4" y2="182.4" stroke="#8a8a8a" stroke-width="1"/>
<line x1="291.5" y1="0" x2="291.5" y2="179.9" stroke="#8a8a8a" stroke-width="1.15"/>
<line x1="482" y1="0" x2="482" y2="179.9" stroke="#8a8a8a" stroke-width="1.15"/>
<line x1="291" y1="179.4" x2="482.5" y2="179.4" stroke="#8a8a8a" stroke-width="1.15"/>
<line x1="291" y1="0.5" x2="482.5" y2="0.5" stroke="#6e6e6e" stroke-width="1.0"/>
<line x1="288.5" x2="291.5" y1="25.6" y2="25.6" stroke="#8a8a8a" stroke-width="1"/>
<line x1="288.5" x2="291.5" y1="76.86" y2="76.86" stroke="#8a8a8a" stroke-width="1"/>
<line x1="288.5" x2="291.5" y1="128.12" y2="128.12" stroke="#8a8a8a" stroke-width="1"/>
<line x1="288.5" x2="291.5" y1="179.38" y2="179.38" stroke="#8a8a8a" stroke-width="1"/>
<line x1="345.5" x2="345.5" y1="179.4" y2="182.4" stroke="#8a8a8a" stroke-width="1"/>
<line x1="436.5" x2="436.5" y1="179.4" y2="182.4" stroke="#8a8a8a" stroke-width="1"/>
<line x1="492.5" y1="0" x2="492.5" y2="179.9" stroke="#8a8a8a" stroke-width="1.15"/>
<line x1="682.9" y1="0" x2="682.9" y2="179.9" stroke="#8a8a8a" stroke-width="1.15"/>
<line x1="492" y1="179.4" x2="683.4" y2="179.4" stroke="#8a8a8a" stroke-width="1.15"/>
<line x1="492" y1="0.5" x2="683.4" y2="0.5" stroke="#6e6e6e" stroke-width="1.0"/>
<line x1="489.5" x2="492.5" y1="25.6" y2="25.6" stroke="#8a8a8a" stroke-width="1"/>
<line x1="489.5" x2="492.5" y1="76.86" y2="76.86" stroke="#8a8a8a" stroke-width="1"/>
<line x1="489.5" x2="492.5" y1="128.12" y2="128.12" stroke="#8a8a8a" stroke-width="1"/>
<line x1="489.5" x2="492.5" y1="179.38" y2="179.38" stroke="#8a8a8a" stroke-width="1"/>
<line x1="546.5" x2="546.5" y1="179.4" y2="182.4" stroke="#8a8a8a" stroke-width="1"/>
<line x1="637.5" x2="637.5" y1="179.4" y2="182.4" stroke="#8a8a8a" stroke-width="1"/>
<g clip-path="url(#cpd)">
<path d="M55 350.99L57.11 350.99L59.21 350.99L61.32 350.99L63.43 350.99L65.54 350.99L67.64 350.99L69.75 350.99L71.86 350.99L73.96 350.99L76.07 350.99L78.18 350.99L80.28 350.99L82.39 350.99L84.5 350.99L86.61 350.99L88.71 350.99L90.82 350.99L92.93 351L95.03 351L97.14 351L99.25 351L101.35 351L103.46 351L105.57 351L107.68 351.01L109.78 351.01L111.89 351.01L114 351.01L116.1 351.02L118.21 351.02L120.32 351.02L122.42 351.02L124.53 351.03L126.64 351.03L128.75 351.03L130.85 351.04L132.96 351.04L135.07 351.04L137.17 351.05L139.28 351.05L141.39 351.05L143.49 351.06L145.6 351.06L147.71 351.07L149.82 351.07L151.92 351.07L154.03 351.08L156.14 351.08L158.24 351.09L160.35 351.09L162.46 351.1L164.57 351.1L166.67 351.11L168.78 351.11L170.89 351.12L172.99 351.12L175.1 351.13L177.21 351.13L179.31 351.14L181.42 351.15L183.53 351.15L185.64 351.16L187.74 351.16L189.85 351.17L191.96 351.18L194.06 351.18L196.17 351.19L198.28 351.19L200.38 351.2L202.49 351.21L204.6 351.21L206.71 351.22L208.81 351.23L210.92 351.24L213.03 351.24L215.13 351.25L217.24 351.26L219.35 351.27L221.45 351.27L223.56 351.28L225.67 351.29L227.78 351.3L229.88 351.3L231.99 351.31L234.1 351.32L236.2 351.33L238.31 351.34L240.42 351.34L242.53 351.35L244.63 351.36L246.74 351.37L248.85 351.38L250.95 351.39L253.06 351.39L255.17 351.4L257.27 351.41L259.38 351.42L261.49 351.43L263.6 351.44L265.7 351.45L267.81 351.46L269.92 351.47L272.02 351.48L274.13 351.48L276.24 351.49L278.34 351.5L280.45 351.51L282.56 351.52L284.67 351.53L286.77 351.54L288.88 351.55L290.99 351.56L293.09 351.57L295.2 351.58L297.31 351.59L299.41 351.6L301.52 351.61L303.63 351.62L305.74 351.63L307.84 351.64L309.95 351.65L312.06 351.66L314.16 351.67L316.27 351.68L318.38 351.69L320.48 351.7L322.59 351.71L324.7 351.72L326.81 351.73L328.91 351.74L331.02 351.75L333.13 351.76L335.23 351.77L337.34 351.79L339.45 351.8L341.56 351.81L343.66 351.82L345.77 351.84L347.88 351.85L349.98 351.86L352.09 351.88L354.2 351.89L356.3 351.91L358.41 351.92L360.52 351.94L362.63 351.95L364.73 351.97L366.84 351.99L368.95 352L371.05 352.02L373.16 352.04L375.27 352.06L377.37 352.08L379.48 352.1L381.59 352.12L383.7 352.14L385.8 352.16L387.91 352.18L390.02 352.2L392.12 352.22L394.23 352.24L396.34 352.27L398.44 352.29L400.55 352.31L402.66 352.33L404.77 352.35L406.87 352.37L408.98 352.39L411.09 352.41L413.19 352.43L415.3 352.45L417.41 352.48L419.52 352.5L421.62 352.52L423.73 352.54L425.84 352.56L427.94 352.59L430.05 352.61L432.16 352.63L434.26 352.66L436.37 352.68L438.48 352.7L440.59 352.73L442.69 352.75L444.8 352.77L446.91 352.8L449.01 352.82L451.12 352.85L453.23 352.87L455.33 352.9L457.44 352.92L459.55 352.94L461.66 352.97L463.76 352.99L465.87 353.02L467.98 353.04L470.08 353.07L472.19 353.09L474.3 353.12L476.4 353.15L478.51 353.17L480.62 353.2L482.73 353.23L484.83 353.26L486.94 353.29L489.05 353.32L491.15 353.35L493.26 353.38L495.37 353.41L497.47 353.45L499.58 353.48L501.69 353.52L503.8 353.56L505.9 353.59L508.01 353.63L510.12 353.68L512.22 353.72L514.33 353.76L516.44 353.81L518.55 353.86L520.65 353.91L522.76 353.96L524.87 354.01L526.97 354.07L529.08 354.12L531.19 354.18L533.29 354.24L535.4 354.3L537.51 354.37L539.62 354.44L541.72 354.51L543.83 354.58L545.94 354.65L548.04 354.73L550.15 354.81L552.26 354.9L554.36 354.98L556.47 355.07L558.58 355.17L560.69 355.26L562.79 355.36L564.9 355.47L567.01 355.58L569.11 355.69L571.22 355.81L573.33 355.93L575.43 356.06L577.54 356.19L579.65 356.33L581.76 356.47L583.86 356.62L585.97 356.77L588.08 356.92L590.18 357.08L592.29 357.24L594.4 357.41L596.51 357.57L598.61 357.74L600.72 357.91L602.83 358.09L604.93 358.26L607.04 358.43L609.15 358.61L611.25 358.78L613.36 358.95L615.47 359.12L617.58 359.29L619.68 359.47L621.79 359.64L623.9 359.81L626 359.99L628.11 360.16L630.22 360.34L632.32 360.52L634.43 360.71L636.54 360.89L638.65 361.08L640.75 361.27L642.86 361.46L644.97 361.66L647.07 361.86L649.18 362.06L651.29 362.26L653.39 362.47L655.5 362.68L657.61 362.89L659.72 363.1L661.82 363.31L663.93 363.52L666.04 363.73L668.14 363.94L670.25 364.15L672.36 364.36L674.46 364.57L676.57 364.78L678.68 364.99L680.79 365.19L682.89 365.4L685 365.61L685 378.11L682.89 377.9L680.79 377.69L678.68 377.51L676.57 377.33L674.46 377.16L672.36 376.98L670.25 376.81L668.14 376.63L666.04 376.45L663.93 376.28L661.82 376.1L659.72 375.93L657.61 375.75L655.5 375.58L653.39 375.4L651.29 375.23L649.18 375.06L647.07 374.89L644.97 374.73L642.86 374.57L640.75 374.41L638.65 374.25L636.54 374.1L634.43 373.95L632.32 373.8L630.22 373.65L628.11 373.51L626 373.37L623.9 373.22L621.79 373.08L619.68 372.95L617.58 372.81L615.47 372.67L613.36 372.53L611.25 372.39L609.15 372.26L607.04 372.12L604.93 371.98L602.83 371.84L600.72 371.7L598.61 371.53L596.51 371.34L594.4 371.15L592.29 370.96L590.18 370.77L588.08 370.59L585.97 370.41L583.86 370.24L581.76 370.07L579.65 369.9L577.54 369.74L575.43 369.59L573.33 369.44L571.22 369.29L569.11 369.15L567.01 369.02L564.9 368.88L562.79 368.75L560.69 368.63L558.58 368.51L556.47 368.39L554.36 368.28L552.26 368.17L550.15 368.06L548.04 367.96L545.94 367.86L543.83 367.76L541.72 367.67L539.62 367.57L537.51 367.48L535.4 367.39L533.29 367.31L531.19 367.22L529.08 367.14L526.97 367.06L524.87 366.98L522.76 366.91L520.65 366.83L518.55 366.76L516.44 366.69L514.33 366.62L512.22 366.55L510.12 366.49L508.01 366.42L505.9 366.36L503.8 366.3L501.69 366.24L499.58 366.18L497.47 366.12L495.37 366.06L493.26 366.01L491.15 365.95L489.05 365.9L486.94 365.84L484.83 365.79L482.73 365.74L480.62 365.69L478.51 365.64L476.4 365.59L474.3 365.54L472.19 365.49L470.08 365.44L467.98 365.39L465.87 365.34L463.76 365.3L461.66 365.25L459.55 365.2L457.44 365.15L455.33 365.1L453.23 365.06L451.12 365.01L449.01 364.96L446.91 364.91L444.8 364.87L442.69 364.82L440.59 364.77L438.48 364.73L436.37 364.68L434.26 364.63L432.16 364.59L430.05 364.54L427.94 364.49L425.84 364.45L423.73 364.4L421.62 364.36L419.52 364.31L417.41 364.27L415.3 364.22L413.19 364.18L411.09 364.13L408.98 364.09L406.87 364.05L404.77 364L402.66 363.96L400.55 363.92L398.44 363.88L396.34 363.85L394.23 363.82L392.12 363.79L390.02 363.76L387.91 363.72L385.8 363.69L383.7 363.66L381.59 363.63L379.48 363.6L377.37 363.58L375.27 363.55L373.16 363.52L371.05 363.49L368.95 363.47L366.84 363.44L364.73 363.41L362.63 363.39L360.52 363.36L358.41 363.34L356.3 363.31L354.2 363.29L352.09 363.27L349.98 363.24L347.88 363.22L345.77 363.2L343.66 363.18L341.56 363.15L339.45 363.13L337.34 363.11L335.23 363.09L333.13 363.07L331.02 363.05L328.91 363.03L326.81 363.01L324.7 362.99L322.59 362.97L320.48 362.95L318.38 362.93L316.27 362.91L314.16 362.89L312.06 362.87L309.95 362.85L307.84 362.83L305.74 362.81L303.63 362.79L301.52 362.77L299.41 362.75L297.31 362.73L295.2 362.72L293.09 362.7L290.99 362.68L288.88 362.66L286.77 362.64L284.67 362.62L282.56 362.6L280.45 362.58L278.34 362.57L276.24 362.55L274.13 362.53L272.02 362.51L269.92 362.49L267.81 362.47L265.7 362.46L263.6 362.44L261.49 362.42L259.38 362.4L257.27 362.38L255.17 362.36L253.06 362.35L250.95 362.33L248.85 362.31L246.74 362.29L244.63 362.28L242.53 362.26L240.42 362.24L238.31 362.22L236.2 362.21L234.1 362.19L231.99 362.17L229.88 362.15L227.78 362.14L225.67 362.12L223.56 362.1L221.45 362.08L219.35 362.07L217.24 362.05L215.13 362.03L213.03 362.02L210.92 362L208.81 361.99L206.71 361.97L204.6 361.95L202.49 361.94L200.38 361.92L198.28 361.9L196.17 361.89L194.06 361.87L191.96 361.86L189.85 361.84L187.74 361.83L185.64 361.81L183.53 361.8L181.42 361.78L179.31 361.77L177.21 361.75L175.1 361.74L172.99 361.72L170.89 361.71L168.78 361.69L166.67 361.68L164.57 361.66L162.46 361.65L160.35 361.64L158.24 361.62L156.14 361.61L154.03 361.59L151.92 361.58L149.82 361.57L147.71 361.55L145.6 361.54L143.49 361.53L141.39 361.51L139.28 361.5L137.17 361.49L135.07 361.47L132.96 361.46L130.85 361.45L128.75 361.44L126.64 361.42L124.53 361.41L122.42 361.4L120.32 361.39L118.21 361.38L116.1 361.36L114 361.35L111.89 361.34L109.78 361.33L107.68 361.32L105.57 361.31L103.46 361.29L101.35 361.28L99.25 361.27L97.14 361.26L95.03 361.25L92.93 361.24L90.82 361.23L88.71 361.22L86.61 361.21L84.5 361.2L82.39 361.19L80.28 361.18L78.18 361.17L76.07 361.16L73.96 361.15L71.86 361.14L69.75 361.13L67.64 361.12L65.54 361.11L63.43 361.1L61.32 361.09L59.21 361.09L57.11 361.09L55 361.09Z" fill="#ababab"/>
<path d="M55 221.92L57.11 222.23L59.21 222.56L61.32 222.89L63.43 223.24L65.54 223.6L67.64 223.97L69.75 224.35L71.86 224.75L73.96 225.15L76.07 225.57L78.18 225.99L80.28 226.42L82.39 226.86L84.5 227.31L86.61 227.77L88.71 228.23L90.82 228.69L92.93 229.17L95.03 229.64L97.14 230.12L99.25 230.6L101.35 231.08L103.46 231.56L105.57 232.05L107.68 232.53L109.78 233.02L111.89 233.5L114 233.98L116.1 234.45L118.21 234.93L120.32 235.4L122.42 235.86L124.53 236.33L126.64 236.79L128.75 237.25L130.85 237.71L132.96 238.17L135.07 238.62L137.17 239.08L139.28 239.54L141.39 239.99L143.49 240.45L145.6 240.9L147.71 241.35L149.82 241.81L151.92 242.26L154.03 242.71L156.14 243.16L158.24 243.61L160.35 244.05L162.46 244.5L164.57 244.94L166.67 245.38L168.78 245.82L170.89 246.26L172.99 246.69L175.1 247.13L177.21 247.56L179.31 247.99L181.42 248.42L183.53 248.85L185.64 249.28L187.74 249.71L189.85 250.13L191.96 250.56L194.06 250.98L196.17 251.4L198.28 251.83L200.38 252.25L202.49 252.67L204.6 253.1L206.71 253.52L208.81 253.94L210.92 254.37L213.03 254.79L215.13 255.22L217.24 255.64L219.35 256.07L221.45 256.5L223.56 256.92L225.67 257.35L227.78 257.78L229.88 258.2L231.99 258.63L234.1 259.05L236.2 259.48L238.31 259.91L240.42 260.33L242.53 260.76L244.63 261.18L246.74 261.61L248.85 262.03L250.95 262.46L253.06 262.89L255.17 263.31L257.27 263.74L259.38 264.17L261.49 264.59L263.6 265.02L265.7 265.45L267.81 265.87L269.92 266.3L272.02 266.72L274.13 267.15L276.24 267.57L278.34 268L280.45 268.42L282.56 268.84L284.67 269.26L286.77 269.69L288.88 270.11L290.99 270.53L293.09 270.96L295.2 271.38L297.31 271.81L299.41 272.23L301.52 272.66L303.63 273.09L305.74 273.52L307.84 273.96L309.95 274.39L312.06 274.83L314.16 275.26L316.27 275.7L318.38 276.13L320.48 276.57L322.59 277.01L324.7 277.44L326.81 277.88L328.91 278.31L331.02 278.75L333.13 279.18L335.23 279.62L337.34 280.05L339.45 280.48L341.56 280.92L343.66 281.35L345.77 281.78L347.88 282.22L349.98 282.65L352.09 283.09L354.2 283.52L356.3 283.95L358.41 284.39L360.52 284.82L362.63 285.26L364.73 285.69L366.84 286.13L368.95 286.56L371.05 287L373.16 287.43L375.27 287.87L377.37 288.3L379.48 288.74L381.59 289.17L383.7 289.6L385.8 290.03L387.91 290.46L390.02 290.89L392.12 291.32L394.23 291.75L396.34 292.17L398.44 292.59L400.55 293.01L402.66 293.42L404.77 293.83L406.87 294.23L408.98 294.64L411.09 295.04L413.19 295.44L415.3 295.84L417.41 296.24L419.52 296.64L421.62 297.03L423.73 297.43L425.84 297.83L427.94 298.22L430.05 298.62L432.16 299.01L434.26 299.41L436.37 299.81L438.48 300.21L440.59 300.61L442.69 301.01L444.8 301.42L446.91 301.82L449.01 302.23L451.12 302.63L453.23 303.04L455.33 303.44L457.44 303.85L459.55 304.26L461.66 304.66L463.76 305.06L465.87 305.46L467.98 305.87L470.08 306.27L472.19 306.66L474.3 307.06L476.4 307.46L478.51 307.85L480.62 308.25L482.73 308.64L484.83 309.04L486.94 309.43L489.05 309.82L491.15 310.21L493.26 310.6L495.37 310.99L497.47 311.38L499.58 311.77L501.69 312.16L503.8 312.54L505.9 312.93L508.01 313.31L510.12 313.7L512.22 314.08L514.33 314.46L516.44 314.84L518.55 315.22L520.65 315.6L522.76 315.98L524.87 316.36L526.97 316.73L529.08 317.11L531.19 317.49L533.29 317.86L535.4 318.24L537.51 318.61L539.62 318.98L541.72 319.36L543.83 319.73L545.94 320.09L548.04 320.46L550.15 320.82L552.26 321.19L554.36 321.54L556.47 321.9L558.58 322.25L560.69 322.6L562.79 322.95L564.9 323.29L567.01 323.63L569.11 323.97L571.22 324.31L573.33 324.64L575.43 324.98L577.54 325.31L579.65 325.64L581.76 325.96L583.86 326.29L585.97 326.61L588.08 326.93L590.18 327.24L592.29 327.56L594.4 327.87L596.51 328.17L598.61 328.47L600.72 328.77L602.83 329.07L604.93 329.36L607.04 329.64L609.15 329.93L611.25 330.21L613.36 330.48L615.47 330.75L617.58 331.02L619.68 331.29L621.79 331.56L623.9 331.82L626 332.08L628.11 332.34L630.22 332.6L632.32 332.86L634.43 333.11L636.54 333.36L638.65 333.61L640.75 333.86L642.86 334.1L644.97 334.34L647.07 334.58L649.18 334.82L651.29 335.05L653.39 335.28L655.5 335.51L657.61 335.73L659.72 335.96L661.82 336.18L663.93 336.39L666.04 336.61L668.14 336.83L670.25 337.04L672.36 337.25L674.46 337.46L676.57 337.66L678.68 337.87L680.79 338.08L682.89 338.31L685 338.53L685 349.03L682.89 348.81L680.79 348.58L678.68 348.35L676.57 348.11L674.46 347.87L672.36 347.62L670.25 347.38L668.14 347.13L666.04 346.89L663.93 346.64L661.82 346.38L659.72 346.13L657.61 345.87L655.5 345.61L653.39 345.35L651.29 345.09L649.18 344.82L647.07 344.55L644.97 344.28L642.86 344L640.75 343.73L638.65 343.44L636.54 343.16L634.43 342.88L632.32 342.59L630.22 342.3L628.11 342.01L626 341.72L623.9 341.42L621.79 341.12L619.68 340.82L617.58 340.52L615.47 340.22L613.36 339.91L611.25 339.6L609.15 339.29L607.04 338.97L604.93 338.65L602.83 338.33L600.72 338L598.61 337.67L596.51 337.33L594.4 336.99L592.29 336.65L590.18 336.3L588.08 335.95L585.97 335.6L583.86 335.24L581.76 334.88L579.65 334.52L577.54 334.16L575.43 333.8L573.33 333.43L571.22 333.06L569.11 332.69L567.01 332.32L564.9 331.94L562.79 331.56L560.69 331.18L558.58 330.8L556.47 330.41L554.36 330.02L552.26 329.63L550.15 329.24L548.04 328.84L545.94 328.44L543.83 328.04L541.72 327.63L539.62 327.23L537.51 326.82L535.4 326.41L533.29 326L531.19 325.59L529.08 325.18L526.97 324.77L524.87 324.36L522.76 323.95L520.65 323.54L518.55 323.13L516.44 322.71L514.33 322.3L512.22 321.88L510.12 321.47L508.01 321.05L505.9 320.63L503.8 320.21L501.69 319.79L499.58 319.37L497.47 318.95L495.37 318.52L493.26 318.1L491.15 317.68L489.05 317.25L486.94 316.83L484.83 316.4L482.73 315.97L480.62 315.54L478.51 315.12L476.4 314.69L474.3 314.26L472.19 313.82L470.08 313.39L467.98 312.96L465.87 312.52L463.76 312.09L461.66 311.65L459.55 311.21L457.44 310.77L455.33 310.33L453.23 309.89L451.12 309.45L449.01 309.01L446.91 308.58L444.8 308.14L442.69 307.7L440.59 307.26L438.48 306.83L436.37 306.39L434.26 305.96L432.16 305.53L430.05 305.1L427.94 304.67L425.84 304.24L423.73 303.81L421.62 303.38L419.52 302.95L417.41 302.52L415.3 302.09L413.19 301.65L411.09 301.22L408.98 300.78L406.87 300.34L404.77 299.9L402.66 299.46L400.55 299.02L398.44 298.58L396.34 298.14L394.23 297.7L392.12 297.26L390.02 296.82L387.91 296.38L385.8 295.93L383.7 295.48L381.59 295.03L379.48 294.58L377.37 294.13L375.27 293.68L373.16 293.23L371.05 292.78L368.95 292.33L366.84 291.88L364.73 291.43L362.63 290.98L360.52 290.53L358.41 290.08L356.3 289.63L354.2 289.18L352.09 288.73L349.98 288.28L347.88 287.83L345.77 287.39L343.66 286.94L341.56 286.49L339.45 286.04L337.34 285.59L335.23 285.14L333.13 284.69L331.02 284.24L328.91 283.79L326.81 283.34L324.7 282.89L322.59 282.44L320.48 281.98L318.38 281.53L316.27 281.08L314.16 280.63L312.06 280.18L309.95 279.73L307.84 279.28L305.74 278.83L303.63 278.38L301.52 277.94L299.41 277.49L297.31 277.05L295.2 276.61L293.09 276.17L290.99 275.73L288.88 275.29L286.77 274.85L284.67 274.42L282.56 273.98L280.45 273.54L278.34 273.1L276.24 272.66L274.13 272.22L272.02 271.78L269.92 271.34L267.81 270.9L265.7 270.46L263.6 270.02L261.49 269.57L259.38 269.13L257.27 268.69L255.17 268.25L253.06 267.81L250.95 267.36L248.85 266.92L246.74 266.48L244.63 266.04L242.53 265.6L240.42 265.16L238.31 264.72L236.2 264.28L234.1 263.83L231.99 263.39L229.88 262.95L227.78 262.51L225.67 262.07L223.56 261.63L221.45 261.18L219.35 260.74L217.24 260.3L215.13 259.86L213.03 259.42L210.92 258.98L208.81 258.54L206.71 258.1L204.6 257.66L202.49 257.22L200.38 256.78L198.28 256.34L196.17 255.9L194.06 255.47L191.96 255.03L189.85 254.59L187.74 254.15L185.64 253.7L183.53 253.26L181.42 252.82L179.31 252.37L177.21 251.92L175.1 251.47L172.99 251.02L170.89 250.57L168.78 250.12L166.67 249.67L164.57 249.21L162.46 248.75L160.35 248.29L158.24 247.83L156.14 247.37L154.03 246.9L151.92 246.43L149.82 245.97L147.71 245.5L145.6 245.03L143.49 244.56L141.39 244.09L139.28 243.62L137.17 243.15L135.07 242.68L132.96 242.2L130.85 241.73L128.75 241.26L126.64 240.78L124.53 240.3L122.42 239.82L120.32 239.34L118.21 238.85L116.1 238.37L114 237.87L111.89 237.38L109.78 236.88L107.68 236.38L105.57 235.88L103.46 235.38L101.35 234.88L99.25 234.39L97.14 233.89L95.03 233.4L92.93 232.91L90.82 232.42L88.71 231.94L86.61 231.46L84.5 230.99L82.39 230.53L80.28 230.07L78.18 229.62L76.07 229.18L73.96 228.75L71.86 228.33L69.75 227.92L67.64 227.53L65.54 227.14L63.43 226.77L61.32 226.4L59.21 226.06L57.11 225.73L55 225.42Z" fill="#b4b4b4"/>
<path d="M55 355.79L57.11 355.79L59.21 355.79L61.32 355.79L63.43 355.79L65.54 355.79L67.64 355.79L69.75 355.79L71.86 355.79L73.96 355.79L76.07 355.79L78.18 355.79L80.28 355.79L82.39 355.79L84.5 355.79L86.61 355.79L88.71 355.79L90.82 355.79L92.93 355.8L95.03 355.8L97.14 355.8L99.25 355.8L101.35 355.8L103.46 355.8L105.57 355.8L107.68 355.81L109.78 355.81L111.89 355.81L114 355.81L116.1 355.82L118.21 355.82L120.32 355.82L122.42 355.82L124.53 355.83L126.64 355.83L128.75 355.83L130.85 355.84L132.96 355.84L135.07 355.84L137.17 355.85L139.28 355.85L141.39 355.85L143.49 355.86L145.6 355.86L147.71 355.87L149.82 355.87L151.92 355.87L154.03 355.88L156.14 355.88L158.24 355.89L160.35 355.89L162.46 355.9L164.57 355.9L166.67 355.91L168.78 355.91L170.89 355.92L172.99 355.92L175.1 355.93L177.21 355.93L179.31 355.94L181.42 355.95L183.53 355.95L185.64 355.96L187.74 355.96L189.85 355.97L191.96 355.98L194.06 355.98L196.17 355.99L198.28 355.99L200.38 356L202.49 356.01L204.6 356.01L206.71 356.02L208.81 356.03L210.92 356.04L213.03 356.04L215.13 356.05L217.24 356.06L219.35 356.07L221.45 356.07L223.56 356.08L225.67 356.09L227.78 356.1L229.88 356.1L231.99 356.11L234.1 356.12L236.2 356.13L238.31 356.14L240.42 356.14L242.53 356.15L244.63 356.16L246.74 356.17L248.85 356.18L250.95 356.19L253.06 356.19L255.17 356.2L257.27 356.21L259.38 356.22L261.49 356.23L263.6 356.24L265.7 356.25L267.81 356.26L269.92 356.27L272.02 356.28L274.13 356.28L276.24 356.29L278.34 356.3L280.45 356.31L282.56 356.32L284.67 356.33L286.77 356.34L288.88 356.35L290.99 356.36L293.09 356.37L295.2 356.38L297.31 356.39L299.41 356.4L301.52 356.41L303.63 356.42L305.74 356.43L307.84 356.44L309.95 356.45L312.06 356.46L314.16 356.47L316.27 356.48L318.38 356.49L320.48 356.5L322.59 356.51L324.7 356.52L326.81 356.53L328.91 356.54L331.02 356.55L333.13 356.56L335.23 356.57L337.34 356.59L339.45 356.6L341.56 356.61L343.66 356.62L345.77 356.64L347.88 356.65L349.98 356.66L352.09 356.68L354.2 356.69L356.3 356.71L358.41 356.72L360.52 356.74L362.63 356.75L364.73 356.77L366.84 356.79L368.95 356.8L371.05 356.82L373.16 356.84L375.27 356.86L377.37 356.88L379.48 356.9L381.59 356.92L383.7 356.94L385.8 356.96L387.91 356.98L390.02 357L392.12 357.02L394.23 357.04L396.34 357.07L398.44 357.09L400.55 357.12L402.66 357.14L404.77 357.16L406.87 357.19L408.98 357.21L411.09 357.24L413.19 357.27L415.3 357.29L417.41 357.32L419.52 357.35L421.62 357.37L423.73 357.4L425.84 357.43L427.94 357.46L430.05 357.48L432.16 357.51L434.26 357.54L436.37 357.57L438.48 357.6L440.59 357.63L442.69 357.66L444.8 357.69L446.91 357.72L449.01 357.75L451.12 357.77L453.23 357.8L455.33 357.83L457.44 357.86L459.55 357.89L461.66 357.92L463.76 357.95L465.87 357.98L467.98 358.01L470.08 358.04L472.19 358.07L474.3 358.11L476.4 358.14L478.51 358.17L480.62 358.2L482.73 358.24L484.83 358.27L486.94 358.3L489.05 358.34L491.15 358.38L493.26 358.41L495.37 358.45L497.47 358.49L499.58 358.53L501.69 358.57L503.8 358.62L505.9 358.66L508.01 358.7L510.12 358.75L512.22 358.8L514.33 358.85L516.44 358.9L518.55 358.95L520.65 359.01L522.76 359.06L524.87 359.12L526.97 359.18L529.08 359.24L531.19 359.31L533.29 359.38L535.4 359.44L537.51 359.51L539.62 359.59L541.72 359.66L543.83 359.74L545.94 359.82L548.04 359.9L550.15 359.99L552.26 360.08L554.36 360.17L556.47 360.26L558.58 360.36L560.69 360.46L562.79 360.57L564.9 360.68L567.01 360.8L569.11 360.91L571.22 361.04L573.33 361.16L575.43 361.3L577.54 361.43L579.65 361.58L581.76 361.72L583.86 361.87L585.97 362.03L588.08 362.19L590.18 362.36L592.29 362.52L594.4 362.69L596.51 362.87L598.61 363.04L600.72 363.22L602.83 363.39L604.93 363.57L607.04 363.75L609.15 363.93L611.25 364.11L613.36 364.28L615.47 364.46L617.58 364.64L619.68 364.82L621.79 364.99L623.9 365.17L626 365.35L628.11 365.53L630.22 365.72L632.32 365.9L634.43 366.09L636.54 366.28L638.65 366.47L640.75 366.67L642.86 366.87L644.97 367.07L647.07 367.28L649.18 367.48L651.29 367.69L653.39 367.9L655.5 368.12L657.61 368.33L659.72 368.54L661.82 368.76L663.93 368.98L666.04 369.19L668.14 369.41L670.25 369.63L672.36 369.84L674.46 370.06L676.57 370.27L678.68 370.48L680.79 370.69L682.89 370.9L685 371.11" fill="none" stroke="#000" stroke-width="2.2"/>
<path d="M55 223.92L57.11 224.23L59.21 224.56L61.32 224.9L63.43 225.25L65.54 225.62L67.64 226L69.75 226.39L71.86 226.8L73.96 227.21L76.07 227.64L78.18 228.07L80.28 228.51L82.39 228.96L84.5 229.42L86.61 229.89L88.71 230.36L90.82 230.83L92.93 231.31L95.03 231.79L97.14 232.28L99.25 232.77L101.35 233.26L103.46 233.76L105.57 234.25L107.68 234.74L109.78 235.23L111.89 235.73L114 236.21L116.1 236.7L118.21 237.18L120.32 237.66L122.42 238.14L124.53 238.61L126.64 239.08L128.75 239.55L130.85 240.02L132.96 240.49L135.07 240.96L137.17 241.42L139.28 241.89L141.39 242.35L143.49 242.81L145.6 243.28L147.71 243.74L149.82 244.2L151.92 244.66L154.03 245.12L156.14 245.58L158.24 246.04L160.35 246.5L162.46 246.95L164.57 247.4L166.67 247.85L168.78 248.3L170.89 248.75L172.99 249.19L175.1 249.64L177.21 250.08L179.31 250.52L181.42 250.96L183.53 251.4L185.64 251.83L187.74 252.27L189.85 252.7L191.96 253.14L194.06 253.57L196.17 254L198.28 254.44L200.38 254.87L202.49 255.3L204.6 255.73L206.71 256.17L208.81 256.6L210.92 257.03L213.03 257.47L215.13 257.9L217.24 258.34L219.35 258.77L221.45 259.21L223.56 259.64L225.67 260.08L227.78 260.52L229.88 260.95L231.99 261.39L234.1 261.82L236.2 262.26L238.31 262.69L240.42 263.13L242.53 263.56L244.63 264L246.74 264.43L248.85 264.87L250.95 265.3L253.06 265.74L255.17 266.17L257.27 266.61L259.38 267.05L261.49 267.48L263.6 267.92L265.7 268.35L267.81 268.79L269.92 269.22L272.02 269.66L274.13 270.09L276.24 270.53L278.34 270.96L280.45 271.39L282.56 271.82L284.67 272.26L286.77 272.69L288.88 273.12L290.99 273.55L293.09 273.98L295.2 274.42L297.31 274.85L299.41 275.29L301.52 275.73L303.63 276.17L305.74 276.61L307.84 277.05L309.95 277.49L312.06 277.94L314.16 278.38L316.27 278.83L318.38 279.27L320.48 279.72L322.59 280.16L324.7 280.61L326.81 281.05L328.91 281.5L331.02 281.94L333.13 282.39L335.23 282.83L337.34 283.27L339.45 283.72L341.56 284.16L343.66 284.6L345.77 285.04L347.88 285.49L349.98 285.93L352.09 286.37L354.2 286.82L356.3 287.26L358.41 287.7L360.52 288.15L362.63 288.59L364.73 289.03L366.84 289.48L368.95 289.92L371.05 290.37L373.16 290.81L375.27 291.26L377.37 291.7L379.48 292.15L381.59 292.59L383.7 293.03L385.8 293.47L387.91 293.91L390.02 294.35L392.12 294.79L394.23 295.22L396.34 295.65L398.44 296.09L400.55 296.52L402.66 296.94L404.77 297.37L406.87 297.79L408.98 298.22L411.09 298.64L413.19 299.06L415.3 299.48L417.41 299.89L419.52 300.31L421.62 300.73L423.73 301.14L425.84 301.56L427.94 301.97L430.05 302.39L432.16 302.8L434.26 303.22L436.37 303.63L438.48 304.05L440.59 304.47L442.69 304.89L444.8 305.32L446.91 305.74L449.01 306.16L451.12 306.59L453.23 307.01L455.33 307.44L457.44 307.86L459.55 308.29L461.66 308.71L463.76 309.13L465.87 309.55L467.98 309.97L470.08 310.39L472.19 310.81L474.3 311.23L476.4 311.64L478.51 312.06L480.62 312.47L482.73 312.88L484.83 313.29L486.94 313.71L489.05 314.12L491.15 314.53L493.26 314.94L495.37 315.34L497.47 315.75L499.58 316.16L501.69 316.56L503.8 316.97L505.9 317.37L508.01 317.78L510.12 318.18L512.22 318.58L514.33 318.98L516.44 319.38L518.55 319.78L520.65 320.18L522.76 320.57L524.87 320.97L526.97 321.37L529.08 321.76L531.19 322.16L533.29 322.55L535.4 322.95L537.51 323.34L539.62 323.73L541.72 324.12L543.83 324.51L545.94 324.9L548.04 325.28L550.15 325.67L552.26 326.04L554.36 326.42L556.47 326.8L558.58 327.17L560.69 327.53L562.79 327.9L564.9 328.26L567.01 328.62L569.11 328.98L571.22 329.34L573.33 329.69L575.43 330.04L577.54 330.39L579.65 330.74L581.76 331.09L583.86 331.43L585.97 331.77L588.08 332.11L590.18 332.44L592.29 332.77L594.4 333.1L596.51 333.43L598.61 333.75L600.72 334.06L602.83 334.38L604.93 334.69L607.04 334.99L609.15 335.29L611.25 335.59L613.36 335.89L615.47 336.18L617.58 336.47L619.68 336.75L621.79 337.04L623.9 337.32L626 337.6L628.11 337.88L630.22 338.16L632.32 338.43L634.43 338.7L636.54 338.97L638.65 339.24L640.75 339.51L642.86 339.77L644.97 340.03L647.07 340.29L649.18 340.54L651.29 340.79L653.39 341.04L655.5 341.29L657.61 341.53L659.72 341.77L661.82 342.01L663.93 342.25L666.04 342.49L668.14 342.72L670.25 342.95L672.36 343.18L674.46 343.41L676.57 343.63L678.68 343.86L680.79 344.08L682.89 344.31L685 344.53" fill="none" stroke="#000" stroke-width="2.2"/>
<polygon points="69.75,220 64.12,223.25 64.12,229.75 69.75,233 75.38,229.75 75.38,223.25" fill="#B8860B" stroke="#000" stroke-width="2" stroke-linejoin="miter"/>
<polygon points="69.75,352.9 64.12,356.15 64.12,362.65 69.75,365.9 75.38,362.65 75.38,356.15" fill="#4B0082" stroke="#000" stroke-width="2" stroke-linejoin="miter"/>
<polygon points="92.87,225.6 87.24,228.85 87.24,235.35 92.87,238.6 98.5,235.35 98.5,228.85" fill="#B8860B" stroke="#000" stroke-width="2" stroke-linejoin="miter"/>
<polygon points="92.87,352.9 87.24,356.15 87.24,362.65 92.87,365.9 98.5,362.65 98.5,356.15" fill="#4B0082" stroke="#000" stroke-width="2" stroke-linejoin="miter"/>
<polygon points="115.99,230.4 110.36,233.65 110.36,240.15 115.99,243.4 121.62,240.15 121.62,233.65" fill="#B8860B" stroke="#000" stroke-width="2" stroke-linejoin="miter"/>
<polygon points="115.99,353 110.36,356.25 110.36,362.75 115.99,366 121.62,362.75 121.62,356.25" fill="#4B0082" stroke="#000" stroke-width="2" stroke-linejoin="miter"/>
<polygon points="139.12,235.8 133.49,239.05 133.49,245.55 139.12,248.8 144.75,245.55 144.75,239.05" fill="#B8860B" stroke="#000" stroke-width="2" stroke-linejoin="miter"/>
<polygon points="139.12,353.1 133.49,356.35 133.49,362.85 139.12,366.1 144.75,362.85 144.75,356.35" fill="#4B0082" stroke="#000" stroke-width="2" stroke-linejoin="miter"/>
<polygon points="162.24,240.8 156.61,244.05 156.61,250.55 162.24,253.8 167.87,250.55 167.87,244.05" fill="#B8860B" stroke="#000" stroke-width="2" stroke-linejoin="miter"/>
<polygon points="162.24,353.2 156.61,356.45 156.61,362.95 162.24,366.2 167.87,362.95 167.87,356.45" fill="#4B0082" stroke="#000" stroke-width="2" stroke-linejoin="miter"/>
<polygon points="185.36,245.5 179.73,248.75 179.73,255.25 185.36,258.5 190.99,255.25 190.99,248.75" fill="#B8860B" stroke="#000" stroke-width="2" stroke-linejoin="miter"/>
<polygon points="185.36,353.4 179.73,356.65 179.73,363.15 185.36,366.4 190.99,363.15 190.99,356.65" fill="#4B0082" stroke="#000" stroke-width="2" stroke-linejoin="miter"/>
<polygon points="208.48,250.6 202.85,253.85 202.85,260.35 208.48,263.6 214.11,260.35 214.11,253.85" fill="#B8860B" stroke="#000" stroke-width="2" stroke-linejoin="miter"/>
<polygon points="208.48,353.6 202.85,356.85 202.85,363.35 208.48,366.6 214.11,363.35 214.11,356.85" fill="#4B0082" stroke="#000" stroke-width="2" stroke-linejoin="miter"/>
<polygon points="231.6,255.2 225.97,258.45 225.97,264.95 231.6,268.2 237.23,264.95 237.23,258.45" fill="#B8860B" stroke="#000" stroke-width="2" stroke-linejoin="miter"/>
<polygon points="231.6,353.8 225.97,357.05 225.97,363.55 231.6,366.8 237.23,363.55 237.23,357.05" fill="#4B0082" stroke="#000" stroke-width="2" stroke-linejoin="miter"/>
<polygon points="254.73,260.2 249.1,263.45 249.1,269.95 254.73,273.2 260.36,269.95 260.36,263.45" fill="#B8860B" stroke="#000" stroke-width="2" stroke-linejoin="miter"/>
<polygon points="254.73,354 249.1,357.25 249.1,363.75 254.73,367 260.36,363.75 260.36,357.25" fill="#4B0082" stroke="#000" stroke-width="2" stroke-linejoin="miter"/>
<polygon points="277.85,265.1 272.22,268.35 272.22,274.85 277.85,278.1 283.48,274.85 283.48,268.35" fill="#B8860B" stroke="#000" stroke-width="2" stroke-linejoin="miter"/>
<polygon points="277.85,354.2 272.22,357.45 272.22,363.95 277.85,367.2 283.48,363.95 283.48,357.45" fill="#4B0082" stroke="#000" stroke-width="2" stroke-linejoin="miter"/>
<polygon points="300.97,269.8 295.34,273.05 295.34,279.55 300.97,282.8 306.6,279.55 306.6,273.05" fill="#B8860B" stroke="#000" stroke-width="2" stroke-linejoin="miter"/>
<polygon points="300.97,354.4 295.34,357.65 295.34,364.15 300.97,367.4 306.6,364.15 306.6,357.65" fill="#4B0082" stroke="#000" stroke-width="2" stroke-linejoin="miter"/>
<polygon points="324.09,274.8 318.46,278.05 318.46,284.55 324.09,287.8 329.72,284.55 329.72,278.05" fill="#B8860B" stroke="#000" stroke-width="2" stroke-linejoin="miter"/>
<polygon points="324.09,354.5 318.46,357.75 318.46,364.25 324.09,367.5 329.72,364.25 329.72,357.75" fill="#4B0082" stroke="#000" stroke-width="2" stroke-linejoin="miter"/>
<polygon points="347.21,279.7 341.58,282.95 341.58,289.45 347.21,292.7 352.84,289.45 352.84,282.95" fill="#B8860B" stroke="#000" stroke-width="2" stroke-linejoin="miter"/>
<polygon points="347.21,354.7 341.58,357.95 341.58,364.45 347.21,367.7 352.84,364.45 352.84,357.95" fill="#4B0082" stroke="#000" stroke-width="2" stroke-linejoin="miter"/>
<polygon points="370.34,284.5 364.71,287.75 364.71,294.25 370.34,297.5 375.97,294.25 375.97,287.75" fill="#B8860B" stroke="#000" stroke-width="2" stroke-linejoin="miter"/>
<polygon points="370.34,354.8 364.71,358.05 364.71,364.55 370.34,367.8 375.97,364.55 375.97,358.05" fill="#4B0082" stroke="#000" stroke-width="2" stroke-linejoin="miter"/>
<polygon points="393.46,289.3 387.83,292.55 387.83,299.05 393.46,302.3 399.09,299.05 399.09,292.55" fill="#B8860B" stroke="#000" stroke-width="2" stroke-linejoin="miter"/>
<polygon points="393.46,355 387.83,358.25 387.83,364.75 393.46,368 399.09,364.75 399.09,358.25" fill="#4B0082" stroke="#000" stroke-width="2" stroke-linejoin="miter"/>
<polygon points="416.58,293.9 410.95,297.15 410.95,303.65 416.58,306.9 422.21,303.65 422.21,297.15" fill="#B8860B" stroke="#000" stroke-width="2" stroke-linejoin="miter"/>
<polygon points="416.58,355 410.95,358.25 410.95,364.75 416.58,368 422.21,364.75 422.21,358.25" fill="#4B0082" stroke="#000" stroke-width="2" stroke-linejoin="miter"/>
<polygon points="439.7,298.6 434.07,301.85 434.07,308.35 439.7,311.6 445.33,308.35 445.33,301.85" fill="#B8860B" stroke="#000" stroke-width="2" stroke-linejoin="miter"/>
<polygon points="439.7,355.1 434.07,358.35 434.07,364.85 439.7,368.1 445.33,364.85 445.33,358.35" fill="#4B0082" stroke="#000" stroke-width="2" stroke-linejoin="miter"/>
<polygon points="462.82,303.4 457.19,306.65 457.19,313.15 462.82,316.4 468.45,313.15 468.45,306.65" fill="#B8860B" stroke="#000" stroke-width="2" stroke-linejoin="miter"/>
<polygon points="462.82,356.4 457.19,359.65 457.19,366.15 462.82,369.4 468.45,366.15 468.45,359.65" fill="#4B0082" stroke="#000" stroke-width="2" stroke-linejoin="miter"/>
<polygon points="485.95,308.1 480.32,311.35 480.32,317.85 485.95,321.1 491.58,317.85 491.58,311.35" fill="#B8860B" stroke="#000" stroke-width="2" stroke-linejoin="miter"/>
<polygon points="485.95,356.4 480.32,359.65 480.32,366.15 485.95,369.4 491.58,366.15 491.58,359.65" fill="#4B0082" stroke="#000" stroke-width="2" stroke-linejoin="miter"/>
<polygon points="509.07,312.8 503.44,316.05 503.44,322.55 509.07,325.8 514.7,322.55 514.7,316.05" fill="#B8860B" stroke="#000" stroke-width="2" stroke-linejoin="miter"/>
<polygon points="509.07,357.3 503.44,360.55 503.44,367.05 509.07,370.3 514.7,367.05 514.7,360.55" fill="#4B0082" stroke="#000" stroke-width="2" stroke-linejoin="miter"/>
<polygon points="532.19,317.4 526.56,320.65 526.56,327.15 532.19,330.4 537.82,327.15 537.82,320.65" fill="#B8860B" stroke="#000" stroke-width="2" stroke-linejoin="miter"/>
<polygon points="532.19,358.3 526.56,361.55 526.56,368.05 532.19,371.3 537.82,368.05 537.82,361.55" fill="#4B0082" stroke="#000" stroke-width="2" stroke-linejoin="miter"/>
<polygon points="555.31,321.3 549.68,324.55 549.68,331.05 555.31,334.3 560.94,331.05 560.94,324.55" fill="#B8860B" stroke="#000" stroke-width="2" stroke-linejoin="miter"/>
<polygon points="555.31,359.7 549.68,362.95 549.68,369.45 555.31,372.7 560.94,369.45 560.94,362.95" fill="#4B0082" stroke="#000" stroke-width="2" stroke-linejoin="miter"/>
<polygon points="578.43,324.9 572.8,328.15 572.8,334.65 578.43,337.9 584.06,334.65 584.06,328.15" fill="#B8860B" stroke="#000" stroke-width="2" stroke-linejoin="miter"/>
<polygon points="578.43,360.3 572.8,363.55 572.8,370.05 578.43,373.3 584.06,370.05 584.06,363.55" fill="#4B0082" stroke="#000" stroke-width="2" stroke-linejoin="miter"/>
<polygon points="601.56,327.3 595.93,330.55 595.93,337.05 601.56,340.3 607.19,337.05 607.19,330.55" fill="#B8860B" stroke="#000" stroke-width="2" stroke-linejoin="miter"/>
<polygon points="601.56,364.5 595.93,367.75 595.93,374.25 601.56,377.5 607.19,374.25 607.19,367.75" fill="#4B0082" stroke="#000" stroke-width="2" stroke-linejoin="miter"/>
<polygon points="624.68,331.5 619.05,334.75 619.05,341.25 624.68,344.5 630.31,341.25 630.31,334.75" fill="#B8860B" stroke="#000" stroke-width="2" stroke-linejoin="miter"/>
<polygon points="624.68,364.3 619.05,367.55 619.05,374.05 624.68,377.3 630.31,374.05 630.31,367.55" fill="#4B0082" stroke="#000" stroke-width="2" stroke-linejoin="miter"/>
<polygon points="647.8,334.8 642.17,338.05 642.17,344.55 647.8,347.8 653.43,344.55 653.43,338.05" fill="#B8860B" stroke="#000" stroke-width="2" stroke-linejoin="miter"/>
<polygon points="647.8,365.6 642.17,368.85 642.17,375.35 647.8,378.6 653.43,375.35 653.43,368.85" fill="#4B0082" stroke="#000" stroke-width="2" stroke-linejoin="miter"/>
<polygon points="670.92,338.4 665.29,341.65 665.29,348.15 670.92,351.4 676.55,348.15 676.55,341.65" fill="#B8860B" stroke="#000" stroke-width="2" stroke-linejoin="miter"/>
<polygon points="670.92,367.7 665.29,370.95 665.29,377.45 670.92,380.7 676.55,377.45 676.55,370.95" fill="#4B0082" stroke="#000" stroke-width="2" stroke-linejoin="miter"/>
</g>
<line x1="60.8" y1="235.7" x2="60.8" y2="404.85" stroke="#8e8e8e" stroke-width="1.2"/>
<line x1="678.5" y1="235.7" x2="678.5" y2="404.85" stroke="#8e8e8e" stroke-width="1.2"/>
<line x1="60.4" y1="235.7" x2="679.1" y2="235.7" stroke="#8e8e8e" stroke-width="1.2"/>
<line x1="60.4" y1="404.85" x2="679.1" y2="404.85" stroke="#8e8e8e" stroke-width="1.2"/>
<line x1="58.1" x2="60.6" y1="404.9" y2="404.9" stroke="#8a8a8a" stroke-width="1"/>
<line x1="58.1" x2="60.6" y1="380.7" y2="380.7" stroke="#8a8a8a" stroke-width="1"/>
<line x1="58.1" x2="60.6" y1="356.5" y2="356.5" stroke="#8a8a8a" stroke-width="1"/>
<line x1="58.1" x2="60.6" y1="332.3" y2="332.3" stroke="#8a8a8a" stroke-width="1"/>
<line x1="58.1" x2="60.6" y1="308.1" y2="308.1" stroke="#8a8a8a" stroke-width="1"/>
<line x1="58.1" x2="60.6" y1="283.9" y2="283.9" stroke="#8a8a8a" stroke-width="1"/>
<line x1="58.1" x2="60.6" y1="259.7" y2="259.7" stroke="#8a8a8a" stroke-width="1"/>
<line x1="58.1" x2="60.6" y1="235.5" y2="235.5" stroke="#8a8a8a" stroke-width="1"/>
<line x1="106.7" x2="106.7" y1="404.9" y2="407.4" stroke="#8a8a8a" stroke-width="1"/>
<line x1="218.88" x2="218.88" y1="404.9" y2="407.4" stroke="#8a8a8a" stroke-width="1"/>
<line x1="331.06" x2="331.06" y1="404.9" y2="407.4" stroke="#8a8a8a" stroke-width="1"/>
<line x1="443.24" x2="443.24" y1="404.9" y2="407.4" stroke="#8a8a8a" stroke-width="1"/>
<line x1="555.42" x2="555.42" y1="404.9" y2="407.4" stroke="#8a8a8a" stroke-width="1"/>
<line x1="667.6" x2="667.6" y1="404.9" y2="407.4" stroke="#8a8a8a" stroke-width="1"/>
<rect x="111.5" y="252.4" width="4.9" height="2.3" fill="#000"/>
<line x1="672.75" x2="672.75" y1="310.1" y2="326" stroke="#000" stroke-width="2.7"/>
<polygon points="668.9,322.6 672.75,324.6 676.6,322.6 672.75,335" fill="#000"/>
<line x1="672.75" x2="672.75" y1="404.5" y2="391" stroke="#000" stroke-width="2.7"/>
<polygon points="668.9,395.2 672.75,393.2 676.6,395.2 672.75,383.4" fill="#000"/>
<g transform="matrix(1.0214 0 0 0.9471 84.779 18.112)"><text x="0" y="0" font-size="18" font-weight="bold">a)</text></g>
<g transform="matrix(0.9733 0 0 0.9471 296.927 18.112)"><text x="0" y="0" font-size="18" font-weight="bold">b)</text></g>
<g transform="matrix(1.0214 0 0 0.9471 497.179 18.112)"><text x="0" y="0" font-size="18" font-weight="bold">c)</text></g>
<g transform="matrix(0.9809 0 0 1.0063 180.119 20.281)"><text x="0" y="0" font-size="18">Δ = -1.5 Ω<tspan dy="3.2">m</tspan></text></g>
<g transform="matrix(0.9862 0 0 0.9385 382.414 19.800)"><text x="0" y="0" font-size="18">Δ = -1.2 Ωm</text></g>
<g transform="matrix(0.9810 0 0 0.9385 596.219 19.900)"><text x="0" y="0" font-size="18">Δ = -1 Ωm</text></g>
<g transform="matrix(1.0048 0 0 0.9929 33.995 32.900)"><text x="0" y="0" font-size="20" stroke="#000" stroke-width="0.3">10</text></g>
<g transform="matrix(1.1400 0 0 1.0100 57.760 26.100)"><text x="0" y="0" font-size="14" stroke="#000" stroke-width="0.2">−5</text></g>
<g transform="matrix(1.0048 0 0 0.9929 33.995 84.130)"><text x="0" y="0" font-size="20" stroke="#000" stroke-width="0.3">10</text></g>
<g transform="matrix(1.1400 0 0 1.0100 57.760 77.330)"><text x="0" y="0" font-size="14" stroke="#000" stroke-width="0.2">−7</text></g>
<g transform="matrix(1.0048 0 0 0.9929 33.995 135.360)"><text x="0" y="0" font-size="20" stroke="#000" stroke-width="0.3">10</text></g>
<g transform="matrix(1.1400 0 0 1.0100 57.760 128.560)"><text x="0" y="0" font-size="14" stroke="#000" stroke-width="0.2">−9</text></g>
<g transform="matrix(1.0048 0 0 1.0214 25.695 186.700)"><text x="0" y="0" font-size="20" stroke="#000" stroke-width="0.3">10</text></g>
<g transform="matrix(1.2143 0 0 0.9400 48.986 179.900)"><text x="0" y="0" font-size="14" stroke="#000" stroke-width="0.2">−11</text></g>
<g transform="matrix(1.0563 0 0 1.0286 121.044 198.400)"><text x="0" y="0" font-size="20" stroke="#000" stroke-width="0.3">200</text></g>
<g transform="matrix(1.0562 0 0 1.0286 327.544 198.400)"><text x="0" y="0" font-size="20" stroke="#000" stroke-width="0.3">200</text></g>
<g transform="matrix(1.0562 0 0 1.0286 528.544 198.400)"><text x="0" y="0" font-size="20" stroke="#000" stroke-width="0.3">200</text></g>
<g transform="matrix(1.0375 0 0 1.0286 215.763 198.400)"><text x="0" y="0" font-size="20" stroke="#000" stroke-width="0.3">300</text></g>
<g transform="matrix(1.0375 0 0 1.0286 418.862 198.400)"><text x="0" y="0" font-size="20" stroke="#000" stroke-width="0.3">300</text></g>
<g transform="matrix(1.0375 0 0 1.0286 619.862 198.400)"><text x="0" y="0" font-size="20" stroke="#000" stroke-width="0.3">300</text></g>
<g transform="matrix(1.0945 0 0 1 119.805 219.700)"><text x="0" y="0" font-size="20" stroke="#000" stroke-width="0.3">Ω/(2<tspan font-style="italic">π</tspan>) (<tspan font-style="italic">kHz</tspan>)</text></g>
<g transform="matrix(1.0945 0 0 1 325.005 219.700)"><text x="0" y="0" font-size="20" stroke="#000" stroke-width="0.3">Ω/(2<tspan font-style="italic">π</tspan>) (<tspan font-style="italic">kHz</tspan>)</text></g>
<g transform="matrix(1.0945 0 0 1 525.405 219.700)"><text x="0" y="0" font-size="20" stroke="#000" stroke-width="0.3">Ω/(2<tspan font-style="italic">π</tspan>) (<tspan font-style="italic">kHz</tspan>)</text></g>
<g transform="rotate(-90) matrix(0.9538 0 0 1.0071 -147.754 18.100)"><text x="0" y="0" font-size="20" stroke="#000" stroke-width="0.3">PSD</text></g>
<g transform="rotate(-90) matrix(0.7833 0 0 0.9526 -101.083 17.189)"><text x="0" y="0" font-size="20" stroke="#000" stroke-width="0.3">(</text></g>
<g transform="rotate(-90) matrix(1.0077 0 0 0.9357 -95.315 17.800)"><text x="0" y="0" font-size="20" stroke="#000" stroke-width="0.3" font-style="italic">V</text></g>
<g transform="rotate(-90) matrix(1.1000 0 0 0.8000 -79.600 8.800)"><text x="0" y="0" font-size="14" stroke="#000" stroke-width="0.2">2</text></g>
<g transform="rotate(-90) matrix(0.9806 0 0 1.0333 -68.519 19.300)"><text x="0" y="0" font-size="20" stroke="#000" stroke-width="0.3" font-style="italic">/Hz</text></g>
<g transform="rotate(-90) matrix(0.7667 0 0 0.9526 -37.300 17.189)"><text x="0" y="0" font-size="20" stroke="#000" stroke-width="0.3">)</text></g>
<g transform="matrix(0.9867 0 0 0.9059 64.113 253.376)"><text x="0" y="0" font-size="18" font-weight="bold">d)</text></g>
<g transform="matrix(0.9769 0 0 0.9385 96.323 254.400)"><text x="0" y="0" font-size="18" font-weight="bold">Ω</text></g>
<g transform="matrix(0.9538 0 0 0.9846 94.846 381.000)"><text x="0" y="0" font-size="18" font-weight="bold">Ω</text></g>
<g transform="matrix(1.2143 0 0 1.2429 108.886 384.043)"><text x="0" y="0" font-size="14" font-weight="bold">+</text></g>
<g transform="matrix(1.1529 0 0 0.9867 646.247 301.240)"><text x="0" y="0" font-size="16" font-weight="bold">2g</text></g>
<g transform="matrix(1.0778 0 0 1.0667 667.000 304.400)"><text x="0" y="0" font-size="16" font-weight="bold">y</text></g>
<g transform="matrix(1.1421 0 0 0.9700 32.758 240.900)"><text x="0" y="0" font-size="15" stroke="#000" stroke-width="0.25">2.0</text></g>
<g transform="matrix(1.1421 0 0 0.9700 32.758 265.100)"><text x="0" y="0" font-size="15" stroke="#000" stroke-width="0.25">1.8</text></g>
<g transform="matrix(1.1421 0 0 0.9700 32.758 289.300)"><text x="0" y="0" font-size="15" stroke="#000" stroke-width="0.25">1.6</text></g>
<g transform="matrix(1.0850 0 0 0.9700 32.815 313.500)"><text x="0" y="0" font-size="15" stroke="#000" stroke-width="0.25">1.4</text></g>
<g transform="matrix(1.1421 0 0 0.9700 32.758 337.700)"><text x="0" y="0" font-size="15" stroke="#000" stroke-width="0.25">1.2</text></g>
<g transform="matrix(1.1421 0 0 0.9700 32.758 361.900)"><text x="0" y="0" font-size="15" stroke="#000" stroke-width="0.25">1.0</text></g>
<g transform="matrix(1.1421 0 0 0.9700 32.758 386.100)"><text x="0" y="0" font-size="15" stroke="#000" stroke-width="0.25">0.8</text></g>
<g transform="matrix(1.1421 0 0 0.9700 32.758 410.300)"><text x="0" y="0" font-size="15" stroke="#000" stroke-width="0.25">0.6</text></g>
<g transform="matrix(1.1857 0 0 1.1200 88.914 420.200)"><text x="0" y="0" font-size="15" stroke="#000" stroke-width="0.25">−2.0</text></g>
<g transform="matrix(1.1857 0 0 1.1200 201.094 420.200)"><text x="0" y="0" font-size="15" stroke="#000" stroke-width="0.25">−1.8</text></g>
<g transform="matrix(1.1857 0 0 1.1200 313.274 420.200)"><text x="0" y="0" font-size="15" stroke="#000" stroke-width="0.25">−1.6</text></g>
<g transform="matrix(1.1857 0 0 1.1200 425.454 420.200)"><text x="0" y="0" font-size="15" stroke="#000" stroke-width="0.25">−1.4</text></g>
<g transform="matrix(1.1857 0 0 1.1200 537.634 420.200)"><text x="0" y="0" font-size="15" stroke="#000" stroke-width="0.25">−1.2</text></g>
<g transform="matrix(1.1857 0 0 1.1200 649.814 420.200)"><text x="0" y="0" font-size="15" stroke="#000" stroke-width="0.25">−1.0</text></g>
<g transform="matrix(1.2333 0 0 1.1643 335.967 442.500)"><text x="0" y="0" font-size="21">Δ</text></g>
<g transform="matrix(1.2833 0 0 1.2267 357.100 444.300)"><text x="0" y="0" font-size="21">/</text></g>
<g transform="matrix(1.1500 0 0 1.1643 368.550 442.500)"><text x="0" y="0" font-size="21">Ω</text></g>
<g transform="matrix(1.1833 0 0 1.1875 387.000 446.200)"><text x="0" y="0" font-size="15" font-style="italic">m</text></g>
<g transform="rotate(-90) matrix(1.1214 0 0 1.2500 -364.621 27.000)"><text x="0" y="0" font-size="21">Ω</text></g>
<g transform="rotate(-90) matrix(1.2625 0 0 1.3625 -342.200 18.600)"><text x="0" y="0" font-size="15">±</text></g>
<g transform="rotate(-90) matrix(1.0667 0 0 1.2267 -321.700 28.400)"><text x="0" y="0" font-size="21">/</text></g>
<g transform="rotate(-90) matrix(1.1143 0 0 1.2000 -309.914 26.300)"><text x="0" y="0" font-size="21">Ω</text></g>
<g transform="rotate(-90) matrix(1.1167 0 0 1.1875 -291.600 30.100)"><text x="0" y="0" font-size="15" font-style="italic">m</text></g>
</svg></body></html>
